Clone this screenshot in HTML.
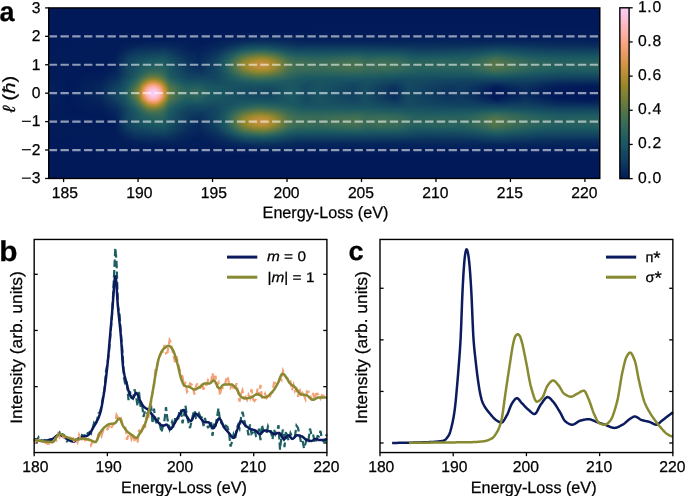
<!DOCTYPE html>
<html><head><meta charset="utf-8"><style>
html,body{margin:0;padding:0;background:#fff;width:685px;height:496px;overflow:hidden}
#heat{position:absolute;left:48px;top:8px;width:552px;height:170px;overflow:hidden}
#heat div{position:absolute;left:0;width:552px}
#cb{position:absolute;left:619.85px;top:7.8px;width:9.25px;height:170.79999999999998px;background:linear-gradient(180deg,#faccfa 0.0%,#fbc7ec 2.5%,#fbc3de 5.0%,#fcbed0 7.5%,#fdb9c2 10.0%,#fcb4b4 12.5%,#fbafa5 15.0%,#faaa97 17.5%,#f9a588 20.0%,#f7a17a 22.5%,#ee9e6d 25.0%,#e69a60 27.5%,#dd9754 30.0%,#d59447 32.5%,#ca923f 35.0%,#be8f3a 37.5%,#b28d35 40.0%,#a68b2f 42.5%,#9a882c 45.0%,#8e8530 47.5%,#828234 50.0%,#777f39 52.5%,#6b7c3d 55.0%,#607942 57.5%,#567548 60.0%,#4c724d 62.5%,#436f52 65.0%,#3a6c57 67.5%,#32675a 70.0%,#2b635c 72.5%,#245f5f 75.0%,#1d5a62 77.5%,#1a5562 80.0%,#174f61 82.5%,#144861 85.0%,#124260 87.5%,#0e3b5f 90.0%,#0b335e 92.5%,#082a5c 95.0%,#04225b 97.5%,#011959 100.0%)}
svg{position:absolute;left:0;top:0;will-change:transform}

text{font-family:"Liberation Sans",sans-serif;fill:#000;text-rendering:geometricPrecision;stroke:#000;stroke-width:0.25px}
</style></head><body>
<div id="heat">
<div style="top:0px;height:1px;background:#011959"></div>
<div style="top:1px;height:1px;background:#011959"></div>
<div style="top:2px;height:1px;background:#011959"></div>
<div style="top:3px;height:1px;background:#011959"></div>
<div style="top:4px;height:1px;background:#011959"></div>
<div style="top:5px;height:1px;background:#011959"></div>
<div style="top:6px;height:1px;background:#011959"></div>
<div style="top:7px;height:1px;background:#011959"></div>
<div style="top:8px;height:1px;background:#011959"></div>
<div style="top:9px;height:1px;background:#011959"></div>
<div style="top:10px;height:1px;background:#011959"></div>
<div style="top:11px;height:1px;background:#011959"></div>
<div style="top:12px;height:1px;background:#011959"></div>
<div style="top:13px;height:1px;background:#011959"></div>
<div style="top:14px;height:1px;background:#011959"></div>
<div style="top:15px;height:1px;background:#011959"></div>
<div style="top:16px;height:1px;background:#011959"></div>
<div style="top:17px;height:1px;background:#011959"></div>
<div style="top:18px;height:1px;background:#011959"></div>
<div style="top:19px;height:1px;background:#011959"></div>
<div style="top:20px;height:1px;background:#011959"></div>
<div style="top:21px;height:1px;background:linear-gradient(90deg,#011959 0.1%,#011a59 99.9%)"></div>
<div style="top:22px;height:1px;background:linear-gradient(90deg,#011959 0.1%,#011a59 99.9%)"></div>
<div style="top:23px;height:1px;background:linear-gradient(90deg,#011959 0.1%,#011a59 99.9%)"></div>
<div style="top:24px;height:1px;background:linear-gradient(90deg,#011959 0.1%,#021b59 86.7%,#021a59 99.9%)"></div>
<div style="top:25px;height:1px;background:linear-gradient(90deg,#011959 0.1%,#021d5a 36.1%,#021b59 99.9%)"></div>
<div style="top:26px;height:1px;background:linear-gradient(90deg,#011959 0.1%,#021d5a 34.3%,#021b59 99.9%)"></div>
<div style="top:27px;height:1px;background:linear-gradient(90deg,#011959 0.1%,#021d5a 33.4%,#031e5a 42.5%,#021c5a 99.9%)"></div>
<div style="top:28px;height:1px;background:linear-gradient(90deg,#011959 0.1%,#011a59 26.5%,#04215a 40.9%,#031e5a 62.2%,#021d5a 99.9%)"></div>
<div style="top:29px;height:1px;background:linear-gradient(90deg,#011959 0.1%,#021b59 24.5%,#031f5a 33.6%,#05235b 40.7%,#031f5a 51.2%,#031d5a 99.9%)"></div>
<div style="top:30px;height:1px;background:linear-gradient(90deg,#011959 0.1%,#021c5a 15.9%,#021c5a 31.1%,#06265b 39.2%,#04205a 48.8%,#04215b 80.7%,#031f5a 99.9%)"></div>
<div style="top:31px;height:1px;background:linear-gradient(90deg,#011959 0.1%,#021c5a 14.4%,#021c5a 23.1%,#021d5a 30.9%,#07295c 38.7%,#04215a 48.1%,#05225b 79.6%,#04205a 99.9%)"></div>
<div style="top:32px;height:1px;background:linear-gradient(90deg,#011959 0.1%,#021c5a 13.9%,#031e5a 22.2%,#021c5a 29.6%,#092d5d 38.5%,#05235b 47.0%,#05245b 79.1%,#04215b 99.9%)"></div>
<div style="top:33px;height:1px;background:linear-gradient(90deg,#011959 0.1%,#021c5a 13.3%,#04205a 21.6%,#021c5a 28.9%,#082a5c 34.5%,#0a315d 39.4%,#06265b 45.9%,#05235b 65.7%,#07275c 79.6%,#05235b 99.9%)"></div>
<div style="top:34px;height:1px;background:linear-gradient(90deg,#011959 0.1%,#021c5a 13.1%,#05235b 21.1%,#021c5a 28.4%,#07285c 33.2%,#0c365e 37.8%,#0a305d 41.8%,#07285c 45.9%,#06275c 64.6%,#07285c 78.4%,#082a5c 82.7%,#06255b 97.4%,#06255b 99.9%)"></div>
<div style="top:35px;height:1px;background:linear-gradient(90deg,#011959 0.1%,#021c5a 13.0%,#06255b 20.0%,#021c5a 28.2%,#07285c 32.7%,#0e3a5f 37.0%,#0e395f 40.5%,#082b5c 45.2%,#082a5c 64.2%,#07295c 76.5%,#092e5d 82.2%,#07285c 93.8%,#07285c 99.9%)"></div>
<div style="top:36px;height:1px;background:linear-gradient(90deg,#011959 0.1%,#021c59 12.8%,#06265b 18.4%,#06255b 21.8%,#021d5a 28.0%,#07285c 32.2%,#103f60 36.7%,#103f60 40.5%,#0a2f5d 45.0%,#092e5d 57.0%,#092c5d 64.8%,#092d5d 77.6%,#0b325e 82.0%,#082a5c 92.8%,#082a5c 99.9%)"></div>
<div style="top:37px;height:1px;background:linear-gradient(90deg,#011959 0.1%,#021b59 12.6%,#07285c 17.5%,#07285c 21.5%,#021d5a 27.6%,#07285c 31.8%,#114260 36.0%,#134560 39.8%,#0b325e 45.2%,#0b335e 56.8%,#0a305d 64.6%,#0a2f5d 71.1%,#0a315d 77.8%,#0d375f 81.8%,#092c5d 92.3%,#092d5d 99.9%)"></div>
<div style="top:38px;height:1px;background:linear-gradient(90deg,#011a59 0.1%,#021c59 12.6%,#082a5c 17.1%,#082b5c 21.5%,#021d5a 27.3%,#07295c 31.4%,#134660 35.6%,#164c61 39.4%,#0d375e 45.2%,#0d395f 54.6%,#0d375f 60.4%,#0a315d 69.1%,#0c355e 77.6%,#0f3c60 81.6%,#0b325e 90.1%,#0a315d 99.9%)"></div>
<div style="top:39px;height:1px;background:linear-gradient(90deg,#011a59 0.1%,#021b59 12.4%,#082c5c 16.8%,#092e5d 21.3%,#031e5a 26.7%,#07285c 30.9%,#164c61 35.8%,#185261 39.2%,#0f3b5f 45.2%,#0f3c5f 51.4%,#0f3c5f 56.6%,#0e395f 64.2%,#0c345e 68.4%,#0d385f 77.3%,#114160 81.6%,#0c365e 89.8%,#0c345e 99.9%)"></div>
<div style="top:40px;height:1px;background:linear-gradient(90deg,#011a59 0.1%,#021b59 12.4%,#092e5d 16.4%,#0b325e 21.3%,#04205a 26.2%,#05225b 28.9%,#0a315d 31.8%,#185161 35.8%,#1c5962 39.0%,#144961 42.7%,#104060 45.4%,#114160 51.7%,#104060 56.8%,#0f3e60 64.2%,#0d385f 67.8%,#0f3c5f 76.9%,#134560 81.6%,#0d375e 92.1%,#0d385f 99.9%)"></div>
<div style="top:41px;height:1px;background:linear-gradient(90deg,#011a59 0.1%,#021b59 12.2%,#0a305d 16.2%,#0c365e 21.1%,#05235b 25.5%,#04205a 27.8%,#092e5d 31.1%,#1b5862 36.0%,#235e5f 39.0%,#195462 41.8%,#124460 44.7%,#124460 51.2%,#124560 56.6%,#114160 64.4%,#0f3c60 68.4%,#0f3d60 73.6%,#144761 79.6%,#154a61 81.8%,#0e3b5f 92.3%,#0f3d60 99.9%)"></div>
<div style="top:42px;height:1px;background:linear-gradient(90deg,#011a59 0.1%,#021b59 12.2%,#0b335e 16.0%,#0e3a5f 21.1%,#06255b 25.1%,#04205a 27.6%,#0a2f5d 30.9%,#205c61 35.6%,#2d645c 38.3%,#26605e 40.5%,#195361 42.7%,#144861 45.0%,#144861 51.2%,#154961 56.4%,#144861 58.8%,#134560 64.2%,#114060 68.2%,#124460 77.3%,#174f61 81.4%,#114260 89.2%,#114160 97.4%,#114160 99.9%)"></div>
<div style="top:43px;height:1px;background:linear-gradient(90deg,#011a59 0.1%,#021b59 12.2%,#0c345e 15.7%,#103f60 20.9%,#07275c 24.9%,#04215a 27.6%,#0b315e 30.9%,#205c61 34.9%,#346859 37.6%,#346859 39.6%,#195462 43.2%,#164c61 45.6%,#164c61 51.0%,#174e61 56.4%,#164c61 58.6%,#154a61 64.0%,#124360 67.5%,#144861 76.9%,#195462 81.4%,#134661 89.0%,#124460 94.5%,#124460 99.9%)"></div>
<div style="top:44px;height:1px;background:linear-gradient(90deg,#011a59 0.1%,#021c59 12.2%,#0d365e 15.5%,#103f60 18.9%,#104060 21.3%,#07295c 24.9%,#04215b 27.4%,#0b325e 30.7%,#1f5c61 34.3%,#356959 36.1%,#426f53 38.7%,#356959 40.9%,#1b5762 43.4%,#185061 45.7%,#185061 50.8%,#195361 56.2%,#175061 58.2%,#174f61 63.7%,#134761 67.1%,#144861 73.5%,#174f61 78.2%,#1c5a62 81.2%,#154961 88.9%,#144761 93.8%,#144861 99.9%)"></div>
<div style="top:45px;height:1px;background:linear-gradient(90deg,#011a59 0.1%,#021b59 12.0%,#0e3a5f 15.7%,#114260 18.9%,#124460 21.1%,#07295c 25.1%,#05225b 27.4%,#0c355e 30.7%,#1d5b62 33.8%,#3a6c57 35.8%,#4e734c 38.0%,#4e734c 39.4%,#2d645c 42.3%,#1c5962 43.9%,#185261 48.8%,#1b5862 56.2%,#195462 58.1%,#195462 63.5%,#154a61 66.9%,#164c61 73.3%,#185161 77.6%,#215d60 80.3%,#1f5b61 82.3%,#164d61 88.9%,#154b61 93.6%,#154b61 99.9%)"></div>
<div style="top:46px;height:1px;background:linear-gradient(90deg,#021a59 0.1%,#021b59 12.0%,#0f3c5f 15.5%,#134560 18.9%,#134761 21.1%,#082a5c 25.3%,#05235b 27.4%,#0c355e 30.5%,#1c5a62 33.4%,#457051 35.8%,#5b7745 37.8%,#5c7744 39.2%,#487150 41.0%,#235e5f 43.6%,#1c5962 45.2%,#1b5862 50.3%,#205c60 56.1%,#1b5862 58.1%,#1b5962 63.3%,#174e61 66.9%,#185061 73.1%,#195362 76.9%,#205c60 79.4%,#29625d 81.1%,#1b5962 85.2%,#185161 89.0%,#174e61 93.4%,#174f61 99.9%)"></div>
<div style="top:47px;height:1px;background:linear-gradient(90deg,#021a59 0.1%,#021b59 12.0%,#103e60 15.3%,#144861 18.9%,#154a61 21.1%,#082b5c 25.5%,#05245b 27.4%,#0d385f 30.5%,#1e5b61 33.2%,#4b724e 35.4%,#657a3f 37.4%,#6c7c3d 38.9%,#5c7744 40.5%,#2d645b 43.2%,#215d60 45.0%,#1e5b61 49.7%,#245f5f 53.9%,#26605e 56.1%,#1e5b61 57.9%,#225e60 61.5%,#1b5762 64.8%,#185161 67.8%,#195462 72.9%,#1a5662 76.4%,#215d60 78.7%,#2f655b 81.1%,#1b5862 86.7%,#185161 93.0%,#195261 99.9%)"></div>
<div style="top:48px;height:1px;background:linear-gradient(90deg,#021b59 0.1%,#021c59 12.0%,#103f60 15.1%,#154a61 18.6%,#164d61 21.1%,#082b5c 25.6%,#06255b 27.4%,#0e3a5f 30.5%,#1f5c61 33.1%,#49714f 34.9%,#657a40 36.3%,#798038 38.0%,#7a8037 39.2%,#5f7843 41.0%,#346859 43.2%,#26605e 44.8%,#235e60 49.5%,#29625d 53.5%,#2b635c 56.1%,#235e5f 57.7%,#27615e 61.0%,#225d60 64.0%,#1a5662 66.0%,#1b5762 73.1%,#1c5962 76.4%,#2d645c 79.6%,#356959 81.1%,#1c5962 87.6%,#195462 93.2%,#1a5662 99.9%)"></div>
<div style="top:49px;height:1px;background:linear-gradient(90deg,#021b59 0.1%,#021b59 11.9%,#082a5c 13.1%,#114260 15.3%,#164d61 18.8%,#175061 21.1%,#092c5d 25.6%,#06265b 27.4%,#0f3c60 30.5%,#1f5c61 32.9%,#477150 34.5%,#637a40 35.6%,#838234 37.4%,#8b8431 38.7%,#838234 39.8%,#5e7843 41.6%,#376a58 43.4%,#2b635d 45.0%,#27615e 49.5%,#2e655b 53.4%,#30665a 56.1%,#27615e 57.7%,#2c645c 60.8%,#27615e 63.9%,#1b5962 66.0%,#1d5b62 72.9%,#1f5c61 76.2%,#32675a 79.6%,#3b6c56 81.1%,#1f5c61 87.8%,#1b5762 93.2%,#1b5962 99.9%)"></div>
<div style="top:50px;height:1px;background:linear-gradient(90deg,#021b59 0.1%,#021b59 11.9%,#07285c 13.0%,#114260 14.9%,#174f61 18.2%,#195462 20.9%,#092c5d 25.8%,#06275c 27.4%,#0f3c5f 30.3%,#1f5c61 32.7%,#4a714f 34.3%,#737e3a 35.8%,#91862f 37.4%,#99882c 38.7%,#91862f 39.8%,#727e3b 41.2%,#3c6d56 43.4%,#2f655b 45.0%,#2c635c 49.5%,#336759 53.4%,#356959 56.1%,#2c635c 57.7%,#31665a 60.6%,#2c645c 63.7%,#1e5b61 66.2%,#215d60 72.7%,#205c60 75.5%,#32675a 79.1%,#426f53 80.9%,#2f655b 84.9%,#225e60 88.3%,#1c5a62 93.0%,#1e5b61 99.9%)"></div>
<div style="top:51px;height:1px;background:linear-gradient(90deg,#021b59 0.1%,#021b59 11.9%,#07295c 13.0%,#114260 14.8%,#185261 18.0%,#1a5662 20.9%,#0b325e 25.1%,#07275c 27.3%,#103e60 30.3%,#1f5c61 32.5%,#457051 34.0%,#747e3a 35.4%,#9a882c 37.2%,#a68b2f 38.5%,#9f892c 39.6%,#828235 41.0%,#426f53 43.4%,#346859 44.7%,#2f655b 49.4%,#376a58 53.2%,#3a6c57 56.1%,#30665b 57.7%,#356959 60.4%,#31665a 63.5%,#215d60 66.2%,#26605e 70.9%,#235e5f 75.3%,#356959 78.9%,#49714f 80.9%,#346859 84.5%,#26605e 88.3%,#1f5c61 92.8%,#215d60 99.9%)"></div>
<div style="top:52px;height:1px;background:linear-gradient(90deg,#021b59 0.1%,#021b59 11.7%,#05235b 12.6%,#104060 14.4%,#195361 17.7%,#1b5962 20.9%,#0d375f 24.5%,#07285c 27.3%,#103f60 30.3%,#1e5b61 32.3%,#3d6d55 33.6%,#7d8136 35.4%,#9f892c 36.9%,#b08d34 38.3%,#ad8c32 39.4%,#99882c 40.5%,#567548 42.8%,#3f6e54 43.9%,#366a58 45.2%,#32675a 49.4%,#3b6c57 53.2%,#3f6e54 55.9%,#336859 57.7%,#396b57 60.4%,#346859 63.5%,#245f5f 66.2%,#28615d 70.7%,#26605e 75.3%,#386b57 78.9%,#4e734c 80.9%,#3f6e55 83.1%,#29615d 88.1%,#215d60 92.7%,#245f5f 99.9%)"></div>
<div style="top:53px;height:1px;background:linear-gradient(90deg,#021b59 0.1%,#021b59 11.7%,#05245b 12.6%,#114160 14.4%,#1a5562 17.7%,#1d5b62 20.9%,#0f3c5f 24.2%,#07295c 27.3%,#114260 30.5%,#205c61 32.3%,#416f53 33.6%,#7f8136 35.2%,#a08a2c 36.5%,#b68e36 38.0%,#b98e37 39.0%,#a98b30 40.1%,#9d892b 40.7%,#567548 43.0%,#3e6e55 44.3%,#386b58 46.6%,#356959 49.4%,#3e6e55 53.0%,#426f52 55.0%,#426f53 56.1%,#366958 57.5%,#3b6d56 60.4%,#376a58 63.5%,#26605e 66.2%,#2b635d 70.7%,#28615d 75.3%,#3b6d56 78.9%,#52744a 80.7%,#4a724e 82.3%,#3b6c56 84.1%,#2b635c 88.3%,#235e5f 92.7%,#26605e 99.9%)"></div>
<div style="top:54px;height:1px;background:linear-gradient(90deg,#021b59 0.1%,#021b59 11.7%,#05245b 12.6%,#104060 14.2%,#1a5762 17.5%,#1f5c61 20.9%,#114160 23.6%,#07295c 27.1%,#104060 30.2%,#1e5b61 32.2%,#3e6e55 33.4%,#848334 35.2%,#9d892b 36.1%,#b98e38 37.6%,#c0903b 38.9%,#b78e37 39.8%,#99882c 41.0%,#50734b 43.4%,#3e6e55 44.7%,#376a58 49.2%,#426f53 53.0%,#467051 55.0%,#467051 56.1%,#386b57 57.5%,#3e6e55 60.2%,#3a6c57 63.3%,#28615e 66.2%,#2c635c 70.6%,#2a635d 73.1%,#2b635c 75.6%,#3c6d56 78.7%,#567548 80.7%,#4e734c 82.3%,#3d6d56 84.3%,#2d645c 88.3%,#255f5f 92.7%,#28615e 99.9%)"></div>
<div style="top:55px;height:1px;background:linear-gradient(90deg,#021b59 0.1%,#021c59 11.7%,#05245b 12.6%,#114160 14.2%,#1b5862 17.5%,#235e60 20.7%,#144861 22.9%,#082a5c 27.1%,#114260 30.3%,#1f5c61 32.2%,#406e54 33.4%,#888432 35.2%,#9d892b 36.0%,#bb8f39 37.4%,#c5913d 38.7%,#be8f3a 39.6%,#a38a2d 40.9%,#97882d 41.2%,#537449 43.4%,#406e54 44.7%,#396b57 49.2%,#446f52 52.8%,#48714f 55.0%,#487150 56.1%,#3a6c57 57.5%,#406e54 60.1%,#3d6d55 63.0%,#29625d 66.2%,#2d645c 70.6%,#2c635c 73.1%,#2c645c 75.6%,#3e6e55 78.7%,#587647 80.7%,#50734b 82.3%,#3f6e54 84.3%,#2e655b 88.1%,#27605e 91.2%,#28615e 93.6%,#29625d 99.9%)"></div>
<div style="top:56px;height:1px;background:linear-gradient(90deg,#021b59 0.1%,#021b59 11.5%,#06255b 12.6%,#114160 14.2%,#1d5b62 17.7%,#255f5f 20.7%,#175061 22.2%,#082b5c 26.9%,#0c345e 28.7%,#164c61 31.1%,#205c61 32.2%,#416f53 33.4%,#8a8432 35.2%,#9f892c 36.0%,#bd8f3a 37.4%,#c7913e 38.7%,#c0903b 39.6%,#a58a2e 40.9%,#94872e 41.4%,#557549 43.4%,#416f53 44.7%,#396b57 49.0%,#457051 52.8%,#49714f 55.0%,#49714f 56.1%,#3a6c57 57.5%,#426f53 59.9%,#3e6e55 63.0%,#2a625d 66.2%,#2e655b 70.6%,#2c645c 73.1%,#2d645c 75.6%,#3f6e54 78.7%,#597646 80.7%,#51744b 82.3%,#406e54 84.3%,#2f655b 88.1%,#27615e 91.2%,#28615d 93.6%,#29625d 99.9%)"></div>
<div style="top:57px;height:1px;background:linear-gradient(90deg,#021b59 0.1%,#021c59 11.5%,#06255b 12.6%,#114260 14.2%,#1e5b61 17.5%,#26605e 20.7%,#185161 22.2%,#092c5d 26.9%,#0c355e 28.7%,#164c61 31.1%,#205c60 32.2%,#416f53 33.4%,#8a8432 35.2%,#9f892c 36.0%,#bd8f3a 37.4%,#c7913e 38.7%,#c0903b 39.6%,#a58a2e 40.9%,#94872e 41.4%,#557548 43.4%,#426f53 44.7%,#3a6c57 49.0%,#457051 52.8%,#49714f 55.0%,#49714f 56.1%,#3b6c57 57.5%,#426f53 59.9%,#3d6d56 63.1%,#2a625d 66.4%,#2e655b 70.7%,#2c635c 75.3%,#3d6d56 78.5%,#587647 80.7%,#50734b 82.3%,#3f6e54 84.3%,#2e655b 88.1%,#26605e 91.4%,#29625d 99.9%)"></div>
<div style="top:58px;height:1px;background:linear-gradient(90deg,#021b59 0.1%,#021b59 11.3%,#05225b 12.4%,#114260 14.2%,#205c61 17.5%,#29625d 20.6%,#1a5662 21.8%,#0b315d 26.2%,#092d5d 27.4%,#144761 30.7%,#205c61 32.2%,#416f53 33.4%,#888432 35.2%,#9d892b 36.0%,#bb8f39 37.4%,#c4903d 38.7%,#bd8f3a 39.6%,#a28a2d 40.9%,#98882d 41.2%,#547549 43.4%,#416f53 44.7%,#396b57 49.0%,#447051 52.8%,#48714f 55.0%,#48714f 56.1%,#3a6c57 57.5%,#406e54 60.1%,#3c6d56 63.1%,#29625d 66.4%,#2e655b 70.7%,#2b635c 75.3%,#3d6d55 78.7%,#567548 80.7%,#4d724d 82.5%,#3e6e55 84.3%,#2d645b 88.3%,#255f5f 92.7%,#28615e 99.9%)"></div>
<div style="top:59px;height:1px;background:linear-gradient(90deg,#021c59 0.1%,#021b59 10.8%,#05235b 12.4%,#114260 14.2%,#225d60 17.5%,#2b635c 20.4%,#235e60 21.3%,#195462 22.0%,#0a2f5d 26.7%,#0b325e 28.0%,#154a61 30.9%,#1f5c61 32.2%,#3f6e54 33.4%,#858334 35.2%,#9d892b 36.1%,#b98e37 37.6%,#bf8f3b 38.7%,#b58e36 39.8%,#99882c 41.0%,#52744a 43.4%,#3f6e55 44.8%,#386b57 49.2%,#426f52 53.0%,#467051 55.0%,#467050 56.1%,#396b57 57.5%,#3e6e55 60.2%,#386b57 63.7%,#28615d 66.4%,#2d645c 70.7%,#2a625d 75.3%,#3b6d56 78.7%,#537449 80.7%,#4a714e 82.5%,#3c6d56 84.3%,#2c635c 88.5%,#245e5f 92.7%,#26605e 99.9%)"></div>
<div style="top:60px;height:1px;background:linear-gradient(90deg,#021c59 0.1%,#011a59 10.2%,#04215a 12.2%,#124260 14.2%,#205d60 17.1%,#2c635c 19.1%,#2b635c 20.7%,#1a5462 22.0%,#0b325e 26.4%,#0a305d 27.6%,#154961 30.9%,#1f5c61 32.2%,#3d6d56 33.4%,#7f8136 35.2%,#9f892c 36.5%,#b68e36 38.0%,#b78e37 39.0%,#a58a2e 40.3%,#98882d 40.9%,#50734b 43.4%,#3c6d56 44.8%,#376a58 49.2%,#406e54 53.2%,#446f52 55.2%,#416f53 56.2%,#376a58 57.5%,#3b6d56 60.6%,#346959 64.0%,#27605e 66.4%,#2b635c 70.7%,#29625d 75.5%,#3a6c57 78.9%,#4f734c 80.7%,#467050 82.5%,#3a6c57 84.1%,#2a625d 88.5%,#225d60 92.7%,#245f5f 99.9%)"></div>
<div style="top:61px;height:1px;background:linear-gradient(90deg,#021c5a 0.1%,#011959 9.7%,#04225b 12.2%,#124560 14.4%,#205c60 16.9%,#2e655b 18.8%,#2f655b 20.6%,#215d60 21.5%,#195361 22.2%,#0b335e 26.4%,#0b325e 27.8%,#154961 30.9%,#1d5b61 32.2%,#406e54 33.6%,#7e8136 35.4%,#9e892c 36.9%,#af8c33 38.3%,#ab8c31 39.4%,#99882c 40.5%,#597646 42.8%,#436f52 43.9%,#396c57 45.0%,#356959 49.4%,#3c6d56 53.5%,#3f6e54 56.1%,#356959 57.7%,#386b57 60.6%,#31665a 64.2%,#255f5f 66.6%,#28615e 72.6%,#27605e 75.5%,#386b57 79.1%,#4a714f 80.9%,#356958 84.5%,#27615e 88.7%,#1f5c61 92.7%,#225d60 99.9%)"></div>
<div style="top:62px;height:1px;background:linear-gradient(90deg,#021c5a 0.1%,#011959 9.3%,#05225b 12.2%,#134560 14.4%,#205c61 16.8%,#31675a 18.6%,#31675a 20.6%,#1a5662 22.0%,#0d395f 25.6%,#0b335e 27.6%,#144961 30.9%,#1f5c61 32.3%,#426f53 33.8%,#757f39 35.4%,#9a882c 37.2%,#a58a2f 38.5%,#9e892b 39.6%,#838234 41.0%,#487150 43.4%,#386b57 44.7%,#32675a 49.2%,#396b57 53.7%,#3b6c56 56.1%,#33675a 57.9%,#356959 61.0%,#2c635c 64.6%,#225e60 67.1%,#255f5f 72.6%,#255f5f 75.6%,#366958 79.3%,#436f52 80.9%,#31675a 84.9%,#245f5f 88.7%,#1c5a62 92.7%,#1e5b61 99.9%)"></div>
<div style="top:63px;height:1px;background:linear-gradient(90deg,#021c5a 0.1%,#011959 7.5%,#031e5a 11.3%,#07285c 12.6%,#134560 14.4%,#1e5b61 16.6%,#346859 18.4%,#366a58 20.2%,#2c645c 21.1%,#1a5762 22.0%,#0e3b5f 25.5%,#0c345e 27.6%,#144961 30.9%,#1e5b61 32.3%,#426f52 34.0%,#707d3b 35.6%,#91862f 37.4%,#99882d 38.5%,#908530 39.8%,#747e3a 41.2%,#406e54 43.6%,#336859 45.2%,#30665a 49.5%,#356959 53.9%,#366a58 56.2%,#30665b 57.9%,#30665a 61.5%,#27615e 64.8%,#1f5c61 67.7%,#225e60 72.6%,#225d60 75.6%,#31675a 79.3%,#3c6d56 80.9%,#205d60 88.7%,#1b5862 93.0%,#1c5962 99.9%)"></div>
<div style="top:64px;height:1px;background:linear-gradient(90deg,#021c5a 0.1%,#011959 5.9%,#021d5a 10.4%,#06265b 12.4%,#134560 14.4%,#205d60 16.6%,#396b57 18.4%,#3b6d56 20.0%,#2e655b 21.1%,#1b5862 22.0%,#103e60 25.1%,#0d365e 27.6%,#144861 30.9%,#1f5c61 32.5%,#467050 34.3%,#667a3f 35.6%,#878333 37.6%,#8b8431 38.7%,#7e8136 40.1%,#50734b 42.5%,#3b6d56 43.6%,#2f655b 45.6%,#2d645b 49.9%,#32675a 56.2%,#2c645c 58.1%,#2a625d 62.8%,#1c5a62 67.7%,#1e5b61 72.7%,#1f5c61 76.0%,#2e655b 79.4%,#356958 81.1%,#1c5a62 88.9%,#195462 92.8%,#1a5662 99.9%)"></div>
<div style="top:65px;height:1px;background:linear-gradient(90deg,#021c5a 0.1%,#011959 5.7%,#021c5a 10.1%,#07275c 12.4%,#144861 14.6%,#1f5c61 16.4%,#406e54 18.4%,#447052 19.7%,#356959 20.9%,#1b5962 22.0%,#114160 24.9%,#0e395f 27.8%,#144861 30.9%,#205c61 32.7%,#447052 34.5%,#5f7843 35.8%,#7b8037 37.8%,#7b8037 39.0%,#667a3f 40.9%,#396b57 43.4%,#2c635c 45.6%,#2a625d 50.1%,#2d645b 56.4%,#29625d 58.2%,#225d60 64.6%,#1b5862 67.5%,#1b5862 73.8%,#215d60 78.0%,#2f655b 81.1%,#1b5862 88.3%,#185161 92.8%,#185261 99.9%)"></div>
<div style="top:66px;height:1px;background:linear-gradient(90deg,#021c5a 0.1%,#011959 4.8%,#021c5a 9.9%,#07285c 12.4%,#164d61 14.9%,#1f5c61 16.2%,#467051 18.2%,#4e734c 19.3%,#447051 20.4%,#255f5f 21.6%,#1b5862 22.2%,#114160 25.1%,#0f3b5f 28.0%,#144861 30.9%,#205c61 32.9%,#49714f 35.1%,#697b3e 37.4%,#6f7d3c 38.5%,#5e7843 40.7%,#356959 43.4%,#28615e 45.7%,#27615e 50.6%,#29625d 56.4%,#26605e 58.8%,#1b5862 66.0%,#1b5762 76.2%,#215d60 79.1%,#28615d 81.1%,#1a5562 87.6%,#164d61 92.8%,#174e61 99.9%)"></div>
<div style="top:67px;height:1px;background:linear-gradient(90deg,#021d5a 0.1%,#011959 4.8%,#021d5a 9.7%,#082a5c 12.4%,#195261 15.3%,#215d60 16.2%,#4c724d 18.0%,#587647 18.9%,#53744a 20.0%,#386b57 21.1%,#1e5b61 22.0%,#124360 24.9%,#103e60 28.4%,#144861 30.9%,#205c61 33.1%,#49714f 35.6%,#617942 38.0%,#5b7745 39.8%,#457051 41.8%,#2e655b 43.8%,#225e60 46.5%,#245f5f 56.8%,#1a5662 65.9%,#195462 70.7%,#1a5562 76.9%,#215d60 81.4%,#154b61 90.9%,#154a61 99.9%)"></div>
<div style="top:68px;height:1px;background:linear-gradient(90deg,#031d5a 0.1%,#011959 4.4%,#031d5a 9.7%,#082b5c 12.4%,#1e5b61 15.9%,#366958 16.9%,#5a7745 18.2%,#647a40 19.1%,#5d7744 20.0%,#447051 20.9%,#215d60 22.0%,#195361 23.1%,#124360 25.5%,#114260 29.6%,#1a5562 32.5%,#255f5f 33.6%,#457051 36.1%,#567548 38.1%,#477050 40.9%,#2a625d 43.9%,#1e5b61 46.8%,#205c61 57.0%,#185161 66.6%,#185161 77.4%,#1b5862 81.4%,#144961 90.3%,#134661 93.8%,#134661 99.9%)"></div>
<div style="top:69px;height:1px;background:linear-gradient(90deg,#031d5a 0.1%,#011959 4.3%,#031e5a 9.7%,#092d5d 12.4%,#1d5b62 15.7%,#366958 16.8%,#677b3f 18.2%,#737e3a 18.9%,#707d3b 19.7%,#5a7646 20.6%,#2f655b 21.6%,#215d60 22.2%,#185161 23.5%,#124460 25.6%,#124460 30.2%,#1f5c61 33.4%,#3a6c57 36.0%,#4a714e 38.1%,#386a58 41.6%,#1e5b61 45.6%,#1b5862 59.0%,#195361 63.7%,#174e61 70.7%,#175061 78.5%,#185261 82.9%,#134560 90.3%,#114260 95.7%,#124260 99.9%)"></div>
<div style="top:70px;height:1px;background:linear-gradient(90deg,#031d5a 0.1%,#011959 4.3%,#031f5a 9.7%,#0a2f5d 12.4%,#1d5a62 15.5%,#356959 16.6%,#767f39 18.2%,#848334 18.9%,#808135 19.7%,#6b7c3d 20.4%,#336859 21.6%,#255f5f 22.2%,#1a5662 23.3%,#144761 25.5%,#134560 30.2%,#1e5b61 33.6%,#346859 36.1%,#3e6e55 38.3%,#2c645c 42.5%,#1b5862 45.9%,#1a5562 58.6%,#174f61 63.5%,#174e61 66.2%,#154a61 75.6%,#164c61 83.2%,#134661 88.0%,#103e60 92.7%,#103e60 99.9%)"></div>
<div style="top:71px;height:1px;background:linear-gradient(90deg,#031e5a 0.1%,#011959 3.9%,#04205a 9.7%,#0b335e 12.6%,#205c61 15.5%,#3a6c57 16.6%,#797f38 17.8%,#92862f 18.6%,#98882d 19.1%,#8e8530 19.8%,#717d3b 20.6%,#31665a 21.8%,#1c5a62 23.1%,#154a61 25.3%,#144761 30.3%,#1f5c61 34.1%,#356959 37.6%,#2f655b 40.9%,#1a5662 45.9%,#1a5662 48.1%,#1a5462 55.9%,#174e61 60.4%,#154b61 63.5%,#164d61 65.9%,#134761 72.9%,#134560 86.9%,#0e3a5f 92.5%,#0e395f 99.9%)"></div>
<div style="top:72px;height:1px;background:linear-gradient(90deg,#031e5a 0.1%,#011959 3.9%,#04215a 9.7%,#0c355e 12.6%,#1f5c61 15.3%,#396b57 16.4%,#808135 17.7%,#9a882c 18.2%,#a98b31 18.8%,#ab8c31 19.3%,#a18a2d 19.8%,#8a8432 20.4%,#547549 21.3%,#356959 21.8%,#225e60 22.9%,#195261 24.2%,#164c61 26.0%,#144961 30.5%,#205c61 34.7%,#2f655b 38.3%,#1b5762 45.0%,#195261 47.4%,#1a5562 49.9%,#185161 55.7%,#185161 58.2%,#134761 63.1%,#164c61 65.7%,#134661 70.6%,#124360 82.5%,#114260 87.2%,#0c355e 92.3%,#0c345e 99.9%)"></div>
<div style="top:73px;height:1px;background:linear-gradient(90deg,#031e5a 0.1%,#011959 3.9%,#05225b 9.7%,#0d375e 12.6%,#1e5b61 15.1%,#406e54 16.4%,#91862f 17.7%,#9c892c 17.8%,#b58d36 18.4%,#c1903b 18.9%,#be8f3a 19.5%,#ad8c32 20.0%,#9b882c 20.4%,#5d7844 21.3%,#3a6c57 21.8%,#28615d 22.7%,#1b5762 24.0%,#174f61 25.8%,#174e61 27.6%,#154a61 30.5%,#215d60 36.1%,#27615e 38.5%,#1b5762 44.8%,#185061 47.2%,#195462 49.5%,#174e61 55.7%,#175061 58.1%,#124460 63.1%,#154b61 65.7%,#124460 70.4%,#0f3e60 80.3%,#0f3c60 82.0%,#104060 86.9%,#0a305d 92.3%,#0a2f5d 99.4%,#0a2f5d 99.9%)"></div>
<div style="top:74px;height:1px;background:linear-gradient(90deg,#031f5a 0.1%,#011959 3.9%,#05235b 9.7%,#0e395f 12.6%,#1e5b61 14.9%,#3f6e54 16.2%,#5e7843 16.8%,#95872e 17.5%,#a28a2d 17.7%,#c2903c 18.2%,#d39345 18.8%,#d59447 19.3%,#c8913e 19.8%,#ac8c32 20.4%,#a08a2c 20.6%,#677b3e 21.3%,#416e53 21.8%,#32675a 22.4%,#1b5862 24.2%,#185261 25.8%,#185261 27.4%,#164b61 30.3%,#205d60 37.2%,#205d60 38.7%,#1b5762 44.7%,#174f61 47.2%,#195361 49.4%,#154b61 55.5%,#174f61 57.7%,#104060 63.0%,#154a61 65.5%,#124360 70.4%,#114160 73.8%,#0e3a5f 80.0%,#0c355e 81.6%,#0e395f 83.6%,#0f3d60 86.5%,#092c5d 92.1%,#082a5c 99.0%,#082b5c 99.9%)"></div>
<div style="top:75px;height:1px;background:linear-gradient(90deg,#031f5a 0.1%,#011959 3.7%,#05245b 9.7%,#0f3d60 12.8%,#1b5762 14.6%,#396b57 15.9%,#4f734b 16.4%,#787f38 16.9%,#97872d 17.3%,#b48d35 17.7%,#d59447 18.2%,#e3995c 18.8%,#e49a5e 19.3%,#d9964e 19.8%,#c9913f 20.2%,#a28a2d 20.7%,#838234 21.1%,#48714f 21.8%,#3a6c57 22.2%,#1c5962 24.4%,#1a5562 26.0%,#1a5562 27.4%,#164d61 30.2%,#1c5a62 38.5%,#1b5862 40.3%,#1b5862 44.5%,#164d61 47.0%,#195361 49.2%,#144961 55.5%,#174e61 57.7%,#0f3d60 63.0%,#154a61 65.5%,#114160 70.4%,#103f60 73.1%,#0f3c60 76.9%,#0b335e 80.2%,#0a2f5d 81.6%,#0c355e 83.4%,#0d385f 85.1%,#0e395f 86.9%,#07285c 92.1%,#06255b 98.5%,#06275c 99.9%)"></div>
<div style="top:76px;height:1px;background:linear-gradient(90deg,#041f5a 0.1%,#011959 3.7%,#05245b 9.5%,#114160 13.0%,#1c5962 14.6%,#3e6e55 15.9%,#577647 16.4%,#747e3a 16.8%,#96872e 17.1%,#a68b2f 17.3%,#d29344 17.8%,#e99c66 18.4%,#f4a075 18.9%,#f19e71 19.5%,#e19859 20.0%,#cf9242 20.4%,#a18a2d 20.9%,#7f8136 21.3%,#50734b 21.8%,#406e54 22.2%,#1f5c61 24.4%,#1b5862 26.0%,#1b5862 27.4%,#174f61 30.2%,#1a5662 38.5%,#195462 40.1%,#1b5862 44.5%,#164c61 46.8%,#195261 49.2%,#164c61 53.2%,#144761 55.5%,#174e61 57.5%,#0e395f 63.0%,#154961 65.3%,#104060 70.4%,#0f3c5f 72.9%,#0f3d60 76.0%,#092e5d 80.2%,#07285c 81.4%,#0a315d 83.4%,#0b335e 84.9%,#0d375f 86.5%,#06255b 92.1%,#04215a 97.9%,#05235b 99.9%)"></div>
<div style="top:77px;height:1px;background:linear-gradient(90deg,#04205a 0.1%,#011959 3.7%,#06245b 9.5%,#134761 13.3%,#1e5b61 14.6%,#3c6d56 15.7%,#5f7843 16.4%,#7f8136 16.8%,#92862f 16.9%,#a48a2e 17.1%,#d59447 17.7%,#f19e70 18.2%,#f8a17b 18.4%,#f9a68a 18.8%,#faa88f 19.1%,#f9a588 19.5%,#f5a077 19.8%,#dc9752 20.4%,#d19342 20.6%,#9d892b 21.1%,#667a3f 21.6%,#577647 21.8%,#477050 22.2%,#346859 23.1%,#1f5c61 24.7%,#1e5b61 26.0%,#205d60 27.1%,#185161 29.6%,#195361 37.4%,#185061 38.9%,#195362 41.2%,#1b5762 44.5%,#154b61 46.8%,#195261 49.0%,#154b61 53.0%,#134660 55.5%,#164d61 57.5%,#0c365e 62.8%,#144961 65.3%,#103e60 70.6%,#0e395f 72.7%,#0f3c60 75.3%,#082b5c 80.0%,#05235b 81.2%,#092d5d 83.4%,#0a305d 84.9%,#0c345e 86.5%,#05225b 92.1%,#031d5a 97.6%,#041f5a 99.9%)"></div>
<div style="top:78px;height:1px;background:linear-gradient(90deg,#04205a 0.1%,#011959 3.7%,#06255b 9.5%,#154a61 13.5%,#1c5a62 14.4%,#426f53 15.7%,#677b3f 16.4%,#9e892b 16.9%,#d49446 17.5%,#f5a077 18.0%,#faac9b 18.6%,#fbb0a6 18.9%,#fbafa5 19.3%,#faab98 19.7%,#f8a380 20.0%,#e79b62 20.4%,#cf9241 20.7%,#a98b31 21.1%,#96872e 21.3%,#5e7844 21.8%,#4d724d 22.2%,#386b57 23.1%,#225e60 24.7%,#205c61 25.8%,#245f5f 27.1%,#1a5662 28.7%,#174f61 35.1%,#175061 38.5%,#164d61 39.9%,#1b5862 44.3%,#154b61 46.8%,#195261 49.0%,#154a61 52.8%,#124460 55.5%,#164d61 57.5%,#0b335e 62.8%,#144961 65.3%,#0d385f 72.7%,#0f3b5f 75.1%,#07275c 80.0%,#031f5a 81.2%,#082a5c 83.4%,#092d5d 84.9%,#0b325e 86.3%,#031f5a 91.9%,#021a59 97.4%,#021c5a 99.9%)"></div>
<div style="top:79px;height:1px;background:linear-gradient(90deg,#04205a 0.1%,#011959 3.7%,#06265b 9.5%,#174e61 13.7%,#1e5b61 14.4%,#3f6e55 15.5%,#6f7d3c 16.4%,#94872e 16.8%,#a98b30 16.9%,#d09342 17.3%,#f6a078 17.8%,#fbb0a7 18.4%,#fdb6b8 18.8%,#fdb7bd 19.1%,#fcb5b5 19.5%,#fbaea2 19.8%,#f9a483 20.2%,#f29f72 20.4%,#d9964d 20.7%,#c9913f 20.9%,#a08a2c 21.3%,#647a40 21.8%,#53744a 22.2%,#366958 23.5%,#25605f 24.7%,#235e5f 25.8%,#27615e 27.1%,#1b5762 28.9%,#164d61 36.9%,#164d61 38.5%,#154a61 39.8%,#1b5962 44.3%,#154a61 46.8%,#195361 49.0%,#154961 52.6%,#124360 55.5%,#164d61 57.5%,#0b315d 62.8%,#144861 65.3%,#0d375e 72.7%,#0e3a5f 74.9%,#07295c 79.4%,#021b59 81.2%,#06275c 83.4%,#07295c 84.7%,#0a315d 86.3%,#021d5a 91.9%,#011959 98.5%,#011a59 99.9%)"></div>
<div style="top:80px;height:1px;background:linear-gradient(90deg,#04215a 0.1%,#011959 3.7%,#06275b 9.5%,#175061 13.7%,#205d60 14.4%,#436f52 15.5%,#697b3e 16.2%,#888432 16.6%,#9d892b 16.8%,#c7913e 17.1%,#d9954d 17.3%,#f49f75 17.7%,#faac9b 18.0%,#fdb6b9 18.4%,#fcbccb 18.8%,#fcbed0 19.1%,#fcbbc8 19.5%,#fcb4b4 19.8%,#f8a381 20.4%,#e19959 20.7%,#d39344 20.9%,#a98b31 21.3%,#94872e 21.5%,#6a7c3d 21.8%,#587647 22.2%,#396b57 23.5%,#28615e 24.7%,#25605e 25.8%,#2a625d 27.1%,#1b5762 29.3%,#154b61 36.9%,#164b61 38.5%,#144861 39.8%,#1b5962 44.3%,#154a61 46.8%,#195361 49.0%,#144961 52.6%,#124460 54.4%,#124460 55.7%,#164d61 57.5%,#0a305d 62.8%,#144861 65.3%,#0c365e 72.7%,#0e3a5f 74.7%,#0b325e 77.1%,#04225b 80.0%,#011959 81.1%,#031d5a 82.2%,#06245b 83.4%,#07275c 84.7%,#0a2f5d 86.3%,#05235b 89.2%,#021b59 92.1%,#011959 99.9%)"></div>
<div style="top:81px;height:1px;background:linear-gradient(90deg,#04215a 0.1%,#011959 3.7%,#07275c 9.5%,#185161 13.7%,#225e60 14.4%,#3e6e55 15.3%,#6f7d3c 16.2%,#8f8530 16.6%,#a58a2f 16.8%,#d09342 17.1%,#ee9d6c 17.5%,#f8a381 17.7%,#fdb7bb 18.2%,#fcbfd3 18.6%,#fbc3de 18.9%,#fbc2dd 19.3%,#fcbdcf 19.7%,#fcb4b4 20.0%,#f6a078 20.6%,#d9964e 20.9%,#c7913e 21.1%,#9b892c 21.5%,#707d3b 21.8%,#637941 22.0%,#48714f 22.9%,#2f655b 24.2%,#27605e 25.6%,#2e645b 26.9%,#1b5862 29.4%,#154a61 36.9%,#154a61 38.5%,#134761 39.8%,#1c5962 44.3%,#154a61 46.6%,#195361 49.0%,#144961 52.6%,#124360 54.4%,#124360 55.7%,#164d61 57.5%,#092e5d 62.8%,#144861 65.3%,#0c345e 72.6%,#0e395f 74.7%,#0a315d 77.1%,#041f5a 80.0%,#011959 80.7%,#021b59 82.2%,#05235b 83.4%,#06255b 84.7%,#092e5d 86.3%,#05235b 89.0%,#011a59 92.1%,#011959 99.9%)"></div>
<div style="top:82px;height:1px;background:linear-gradient(90deg,#04215b 0.1%,#011959 3.7%,#07275c 9.5%,#185261 13.7%,#1f5c61 14.2%,#416e54 15.3%,#737e3a 16.2%,#95872e 16.6%,#ab8c31 16.8%,#d69448 17.1%,#f49f75 17.5%,#fbaea2 17.8%,#fdbac6 18.2%,#fbc3df 18.6%,#fbc7eb 18.9%,#fbc6e9 19.3%,#fcc1db 19.7%,#fdb8c0 20.0%,#f9a382 20.6%,#df9856 20.9%,#ce9241 21.1%,#a18a2d 21.5%,#757e3a 21.8%,#677b3f 22.0%,#4b724e 22.9%,#31675a 24.2%,#28615d 25.6%,#30665b 26.9%,#1c5962 29.4%,#144961 36.9%,#144961 38.5%,#134560 39.8%,#1c5962 44.3%,#154a61 46.6%,#195361 49.0%,#144861 52.4%,#124460 54.3%,#114260 55.5%,#164d61 57.3%,#092d5d 62.8%,#144861 65.1%,#0b345e 72.6%,#0e395f 74.5%,#0b315d 76.9%,#04205a 79.8%,#011959 80.5%,#021b59 82.3%,#04215a 83.6%,#06265b 84.9%,#092d5d 86.3%,#04225b 89.0%,#011959 91.9%,#011959 99.9%)"></div>
<div style="top:83px;height:1px;background:linear-gradient(90deg,#04215b 0.1%,#011959 3.7%,#07285c 9.5%,#195261 13.7%,#205c61 14.2%,#426f53 15.3%,#697b3d 16.0%,#858334 16.4%,#98882d 16.6%,#c6913d 16.9%,#d9964e 17.1%,#f8a17b 17.5%,#fdb8be 18.0%,#fbc2dc 18.4%,#fbc8ef 18.8%,#facaf5 19.1%,#fbc7ec 19.5%,#fcc0d7 19.8%,#fcb5b5 20.2%,#f9a689 20.6%,#f29f72 20.7%,#d29343 21.1%,#a58a2e 21.5%,#8e8530 21.6%,#787f38 21.8%,#6a7b3d 22.0%,#4d734d 22.9%,#356959 24.0%,#29625d 25.5%,#31665a 26.9%,#1c5962 29.6%,#144861 36.9%,#144861 38.5%,#124560 39.8%,#1c5a62 44.1%,#154a61 46.8%,#195462 48.8%,#144861 52.4%,#124460 54.3%,#114160 55.5%,#164d61 57.3%,#092d5d 62.8%,#144861 65.1%,#0b335e 72.6%,#0e395f 74.5%,#0a315d 76.9%,#031f5a 79.8%,#011959 80.7%,#021c5a 82.5%,#04205a 83.8%,#092c5d 86.3%,#04215a 89.0%,#011959 91.6%,#011959 99.9%)"></div>
<div style="top:84px;height:1px;background:linear-gradient(90deg,#04215b 0.1%,#011959 3.5%,#07285c 9.5%,#195261 13.7%,#205c60 14.2%,#436f52 15.3%,#6b7c3d 16.0%,#878333 16.4%,#9a882c 16.6%,#c8913f 16.9%,#db9650 17.1%,#f8a27f 17.5%,#fdb9c2 18.0%,#fbc3e1 18.4%,#facaf4 18.8%,#faccf9 19.1%,#fac9f1 19.5%,#fbc2db 19.8%,#fdb6ba 20.2%,#f9a78d 20.6%,#f49f75 20.7%,#d49446 21.1%,#a78b2f 21.5%,#908630 21.6%,#7a8038 21.8%,#6b7c3d 22.0%,#537449 22.7%,#366958 24.0%,#2a625d 25.5%,#32675a 26.9%,#1c5a62 29.6%,#144861 36.9%,#144861 38.5%,#124460 39.8%,#1c5a62 44.1%,#154a61 46.8%,#195462 48.8%,#144861 52.4%,#124460 54.3%,#114160 55.5%,#164d61 57.3%,#092c5d 62.8%,#144861 65.1%,#0b335e 72.6%,#0e395f 74.5%,#0a305d 76.9%,#031f5a 79.8%,#011959 80.5%,#021b59 82.5%,#031f5a 83.8%,#092c5d 86.3%,#05225b 88.9%,#011959 91.4%,#011959 99.9%)"></div>
<div style="top:85px;height:1px;background:linear-gradient(90deg,#04215b 0.1%,#011959 3.5%,#07285c 9.5%,#195361 13.7%,#205c60 14.2%,#446f52 15.3%,#6b7c3d 16.0%,#878333 16.4%,#9b882c 16.6%,#c8913f 16.9%,#db9651 17.1%,#f8a27f 17.5%,#fdb9c2 18.0%,#fbc4e2 18.4%,#facaf5 18.8%,#faccfa 19.1%,#fac9f1 19.5%,#fbc2dc 19.8%,#fdb6ba 20.2%,#f4a075 20.7%,#d49446 21.1%,#a78b30 21.5%,#908630 21.6%,#7a8038 21.8%,#6c7c3d 22.0%,#537449 22.7%,#366958 24.0%,#2a625d 25.5%,#32675a 26.9%,#1c5a62 29.6%,#144861 36.9%,#144861 38.5%,#124460 39.8%,#1c5a62 44.1%,#154a61 46.8%,#195462 48.8%,#144861 52.4%,#124460 54.3%,#114160 55.5%,#164d61 57.3%,#092c5d 62.8%,#144861 65.1%,#0b335e 72.6%,#0e395f 74.5%,#0a305d 76.9%,#031e5a 79.8%,#011959 80.5%,#021b59 82.5%,#031f5a 83.8%,#082c5c 86.3%,#05225b 88.9%,#011959 91.4%,#011959 99.9%)"></div>
<div style="top:86px;height:1px;background:linear-gradient(90deg,#04215b 0.1%,#011959 3.5%,#07285c 9.5%,#195261 13.7%,#205c61 14.2%,#436f52 15.3%,#6a7c3d 16.0%,#868333 16.4%,#99882c 16.6%,#c7913e 16.9%,#da964f 17.1%,#f8a17c 17.5%,#fdb8bf 18.0%,#fbc3de 18.4%,#fac9f1 18.8%,#facbf7 19.1%,#fbc8ee 19.5%,#fcc1d9 19.8%,#fdb5b7 20.2%,#f9a68b 20.6%,#f39f73 20.7%,#d39345 21.1%,#a68b2f 21.5%,#8f8530 21.6%,#797f38 21.8%,#6a7c3d 22.0%,#52744a 22.7%,#356958 24.0%,#2a625d 25.5%,#31675a 26.9%,#1c5962 29.6%,#144861 36.9%,#144861 38.5%,#124460 39.8%,#1c5a62 44.1%,#154a61 46.8%,#195462 48.8%,#144861 52.4%,#124460 54.3%,#114160 55.5%,#164d61 57.3%,#092c5d 62.8%,#144861 65.1%,#0b335e 72.6%,#0e395f 74.5%,#0a305d 76.9%,#031f5a 79.8%,#011959 80.5%,#021c59 82.5%,#041f5a 83.8%,#092c5d 86.3%,#05225b 88.9%,#011959 91.6%,#011959 99.9%)"></div>
<div style="top:87px;height:1px;background:linear-gradient(90deg,#04215b 0.1%,#011959 3.7%,#07285c 9.5%,#185261 13.7%,#1f5c61 14.2%,#416f53 15.3%,#687b3e 16.0%,#838234 16.4%,#96872d 16.6%,#ac8c32 16.8%,#d7954a 17.1%,#f5a077 17.5%,#fdb6b9 18.0%,#fcc0d7 18.4%,#fbc7ea 18.8%,#fbc8ef 19.1%,#fbc6e7 19.5%,#fcbed2 19.8%,#fcb3b1 20.2%,#f9a485 20.6%,#ef9e6e 20.7%,#d09342 21.1%,#a28a2d 21.5%,#767f39 21.8%,#687b3e 22.0%,#4c724d 22.9%,#32675a 24.2%,#29625d 25.6%,#30665a 26.9%,#1b5962 29.6%,#144961 36.9%,#144861 38.5%,#134560 39.8%,#1c5962 44.3%,#154a61 46.6%,#195361 49.0%,#144861 52.4%,#124460 54.3%,#114160 55.5%,#164d61 57.3%,#092d5d 62.8%,#144861 65.1%,#0b335e 72.6%,#0e395f 74.5%,#0a315d 76.9%,#04205a 79.8%,#011959 80.5%,#021b59 82.3%,#04215a 83.4%,#05245b 84.7%,#092d5d 86.1%,#05235b 88.9%,#011959 91.8%,#011959 99.9%)"></div>
<div style="top:88px;height:1px;background:linear-gradient(90deg,#04215a 0.1%,#011959 3.7%,#07275c 9.5%,#185161 13.7%,#235e5f 14.4%,#3f6e54 15.3%,#707d3b 16.2%,#91862f 16.6%,#a78b30 16.8%,#d29344 17.1%,#f09e70 17.5%,#f9a485 17.7%,#fdb8bf 18.2%,#fcc0d7 18.6%,#fbc4e3 18.9%,#fbc4e2 19.3%,#fcbfd3 19.7%,#fdb6b9 20.0%,#f8a17c 20.6%,#ca913f 21.1%,#9d892b 21.5%,#727e3b 21.8%,#657a40 22.0%,#49714f 22.9%,#30665a 24.2%,#27615e 25.6%,#2e655b 26.9%,#1b5862 29.4%,#154961 36.9%,#154961 38.5%,#134661 39.8%,#1c5962 44.3%,#154a61 46.6%,#195361 49.0%,#144961 52.6%,#124360 54.4%,#124360 55.7%,#164d61 57.5%,#092e5d 62.8%,#144861 65.3%,#0c345e 72.6%,#0e395f 74.7%,#0a305d 77.1%,#04215a 79.8%,#011959 80.7%,#021c5a 82.3%,#04225b 83.6%,#06265b 84.9%,#092d5d 86.3%,#05225b 89.0%,#011959 92.1%,#011959 99.9%)"></div>
<div style="top:89px;height:1px;background:linear-gradient(90deg,#04215a 0.1%,#011959 3.7%,#06275c 9.5%,#185061 13.7%,#215d60 14.4%,#3c6d56 15.3%,#6b7c3d 16.2%,#8b8432 16.6%,#a08a2c 16.8%,#ca9240 17.1%,#f7a179 17.7%,#fcb3b1 18.2%,#fcbbc9 18.6%,#fcbfd5 18.9%,#fcbfd3 19.3%,#fdbac5 19.7%,#fcb1ab 20.0%,#f9a586 20.4%,#f19f71 20.6%,#d59448 20.9%,#ac8c32 21.3%,#97872d 21.5%,#6c7c3c 21.8%,#5a7646 22.2%,#376a58 23.6%,#27615e 24.9%,#27615e 26.0%,#2b635c 27.1%,#1b5862 29.3%,#154b61 36.9%,#154b61 38.5%,#144761 39.8%,#1b5962 44.3%,#154a61 46.6%,#195361 49.0%,#144961 52.6%,#124460 54.4%,#124360 55.7%,#164d61 57.5%,#0a2f5d 62.8%,#144861 65.3%,#0c355e 72.7%,#0e3a5f 74.7%,#0b315d 77.1%,#04215a 80.0%,#011959 80.9%,#021c5a 82.2%,#05245b 83.4%,#06265b 84.7%,#0a2f5d 86.3%,#05235b 89.2%,#021a59 92.1%,#011959 99.9%)"></div>
<div style="top:90px;height:1px;background:linear-gradient(90deg,#04215a 0.1%,#011959 3.7%,#06265b 9.5%,#174f61 13.7%,#1f5c61 14.4%,#406e54 15.5%,#657a40 16.2%,#727e3b 16.4%,#98882d 16.8%,#c0903b 17.1%,#d49445 17.3%,#f8a27e 17.8%,#fbaea0 18.2%,#fdb6b8 18.6%,#fdb9c3 18.9%,#fdb9c2 19.3%,#fcb4b4 19.7%,#faac9a 20.0%,#f5a077 20.4%,#cd9241 20.9%,#a48a2e 21.3%,#8f8530 21.5%,#667a3f 21.8%,#557549 22.2%,#376a58 23.5%,#26605e 24.7%,#245f5f 25.8%,#28615d 27.1%,#1b5762 29.1%,#164c61 36.9%,#164d61 38.5%,#154961 39.8%,#1b5962 44.3%,#154a61 46.8%,#195361 49.0%,#154961 52.6%,#124360 54.6%,#134560 55.9%,#164d61 57.5%,#0a315d 62.8%,#144861 65.3%,#0d365e 72.7%,#0e3a5f 74.9%,#07285c 79.4%,#011959 81.1%,#06265b 83.4%,#07285c 84.7%,#0a305d 86.3%,#021c5a 91.9%,#011959 99.9%)"></div>
<div style="top:91px;height:1px;background:linear-gradient(90deg,#04205a 0.1%,#011959 3.7%,#06255b 9.5%,#164d61 13.7%,#225d60 14.6%,#3c6d56 15.5%,#6a7b3d 16.4%,#a18a2d 16.9%,#c8913e 17.3%,#d8954b 17.5%,#f8a27d 18.0%,#faab99 18.4%,#fcb1aa 18.8%,#fcb3af 19.1%,#fbb0a8 19.5%,#faaa95 19.8%,#f6a078 20.2%,#d39344 20.7%,#9a882c 21.3%,#607842 21.8%,#4f734c 22.2%,#376a58 23.3%,#235e5f 24.7%,#215d60 25.8%,#255f5f 27.1%,#1b5762 28.7%,#164d61 36.0%,#174f61 38.5%,#164c61 39.8%,#1b5862 44.3%,#154a61 46.8%,#195261 49.0%,#154a61 52.8%,#124460 55.5%,#164d61 57.5%,#0b335e 62.8%,#144961 65.3%,#0d375f 72.7%,#0e3b5f 75.1%,#07285c 79.8%,#031d5a 81.2%,#07295c 83.4%,#092c5d 84.9%,#0b325e 86.3%,#031e5a 91.9%,#011959 97.6%,#021c59 99.9%)"></div>
<div style="top:92px;height:1px;background:linear-gradient(90deg,#04205a 0.1%,#011959 3.7%,#06255b 9.5%,#144761 13.3%,#1f5c61 14.6%,#3e6e55 15.7%,#627941 16.4%,#838234 16.8%,#96872e 16.9%,#a88b30 17.1%,#cb9240 17.5%,#ed9d6b 18.0%,#f5a077 18.2%,#f9a78c 18.6%,#faaa97 18.9%,#faaa95 19.3%,#f9a689 19.7%,#f39f73 20.0%,#d59447 20.6%,#a28a2d 21.1%,#7c8037 21.5%,#597646 21.8%,#49714f 22.2%,#366958 23.1%,#205d60 24.7%,#1f5c61 26.0%,#225d60 27.1%,#195462 28.9%,#185061 36.7%,#185261 38.5%,#174f61 39.9%,#1b5862 44.3%,#154b61 46.8%,#195261 49.0%,#154a61 53.0%,#134560 55.5%,#164d61 57.5%,#0c355e 62.8%,#144961 65.3%,#0e395f 72.7%,#0f3c5f 75.3%,#082a5c 80.0%,#04215b 81.2%,#082c5c 83.4%,#0a2f5d 84.9%,#0b345e 86.5%,#04215a 92.1%,#021c5a 97.4%,#031e5a 99.9%)"></div>
<div style="top:93px;height:1px;background:linear-gradient(90deg,#04205a 0.1%,#011959 3.7%,#05245b 9.5%,#124460 13.1%,#1c5a62 14.6%,#406e54 15.9%,#5a7746 16.4%,#787f38 16.8%,#9b882c 17.1%,#cb9240 17.7%,#e89b63 18.2%,#f7a17a 18.8%,#f8a27e 19.1%,#f29f72 19.7%,#dd9754 20.2%,#d49446 20.4%,#a68b2f 20.9%,#95872e 21.1%,#52744a 21.8%,#436f52 22.2%,#29625d 23.6%,#1c5a62 24.9%,#1d5a62 27.3%,#174f61 30.2%,#1a5562 38.5%,#195261 40.1%,#1b5862 44.5%,#164c61 46.8%,#195261 49.2%,#164b61 53.2%,#134761 55.5%,#174e61 57.5%,#0d385f 63.0%,#144961 65.3%,#103f60 70.4%,#0e3b5f 72.9%,#0f3d60 76.0%,#092c5d 80.2%,#06275c 81.4%,#0a2f5d 83.4%,#0b325e 84.9%,#0c365e 86.5%,#05245b 92.1%,#04205a 97.7%,#04225b 99.9%)"></div>
<div style="top:94px;height:1px;background:linear-gradient(90deg,#031f5a 0.1%,#011959 3.7%,#05245b 9.7%,#103e60 12.8%,#1b5862 14.6%,#3a6c57 15.9%,#52744a 16.4%,#7d8037 16.9%,#9c892b 17.3%,#d29344 18.0%,#e59a5f 18.6%,#eb9c67 19.1%,#e3995d 19.7%,#d09342 20.2%,#98882d 20.9%,#587646 21.6%,#426f53 22.0%,#2e645b 23.1%,#1c5962 24.5%,#1a5662 26.0%,#1b5762 27.3%,#164e61 30.2%,#1b5962 38.5%,#1a5662 40.3%,#1b5862 44.5%,#164d61 47.0%,#195361 49.2%,#144861 55.5%,#174e61 57.7%,#0f3c5f 63.0%,#154961 65.5%,#114060 70.4%,#103e60 73.1%,#0f3c5f 76.7%,#0b315d 80.2%,#092d5d 81.6%,#0b335e 83.4%,#0d365e 85.1%,#0d385f 86.7%,#07275c 92.1%,#05245b 98.3%,#06255b 99.9%)"></div>
<div style="top:95px;height:1px;background:linear-gradient(90deg,#031f5a 0.1%,#011959 3.7%,#05235b 9.7%,#0f3c5f 12.8%,#1f5c61 14.9%,#426f53 16.2%,#627941 16.8%,#9b882c 17.5%,#c9913f 18.2%,#d69448 18.6%,#db9650 19.1%,#d59447 19.7%,#bd8f3a 20.2%,#98882d 20.7%,#50734b 21.6%,#3b6c56 22.0%,#1c5962 24.2%,#195361 25.8%,#195462 27.3%,#164c61 30.2%,#205c61 37.6%,#1d5b62 40.9%,#1b5762 44.7%,#174e61 47.0%,#195361 49.2%,#154a61 55.5%,#174f61 57.7%,#103f60 63.0%,#154a61 65.5%,#114260 70.4%,#114060 73.5%,#0f3c5f 77.6%,#0c355e 80.3%,#0b335e 81.8%,#0d375f 83.6%,#0f3c5f 86.5%,#082b5c 92.1%,#07285c 98.8%,#07295c 99.9%)"></div>
<div style="top:96px;height:1px;background:linear-gradient(90deg,#031f5a 0.1%,#011959 3.9%,#05225b 9.7%,#0d375f 12.6%,#1c5a62 14.9%,#3b6c56 16.2%,#587647 16.8%,#97872d 17.7%,#ac8c32 18.0%,#c2903c 18.6%,#c9913f 19.1%,#c1903b 19.7%,#ab8c31 20.2%,#a18a2d 20.4%,#7c8037 20.9%,#3c6d56 21.8%,#2a625d 22.7%,#1a5662 24.2%,#185061 26.0%,#174f61 27.6%,#154b61 30.5%,#225d60 36.7%,#25605f 38.5%,#215d60 41.2%,#1b5762 44.8%,#174f61 47.2%,#195462 49.4%,#164d61 55.7%,#175061 57.9%,#124360 63.1%,#154b61 65.5%,#124460 70.4%,#0f3d60 80.0%,#0e395f 81.8%,#0f3c60 83.6%,#103f60 86.7%,#0a2f5d 92.1%,#092d5d 99.4%,#092e5d 99.9%)"></div>
<div style="top:97px;height:1px;background:linear-gradient(90deg,#031e5a 0.1%,#011959 3.9%,#04215b 9.7%,#0c355e 12.6%,#1c5a62 15.1%,#3b6c56 16.4%,#868333 17.7%,#99882c 18.0%,#ad8c32 18.6%,#b38d35 19.1%,#ac8c32 19.7%,#99882d 20.2%,#627941 21.1%,#376a58 21.8%,#235e5f 22.9%,#195361 24.2%,#164d61 26.0%,#154961 28.5%,#164c61 31.4%,#1f5c61 34.9%,#2c645c 38.3%,#1b5862 44.8%,#185261 47.4%,#1a5462 49.7%,#185061 55.7%,#185161 58.1%,#134660 63.1%,#164c61 65.7%,#134660 70.6%,#114160 82.3%,#114160 87.0%,#0b335e 92.3%,#0b325e 99.9%)"></div>
<div style="top:98px;height:1px;background:linear-gradient(90deg,#031e5a 0.1%,#011959 4.1%,#04205a 9.7%,#0b335e 12.6%,#1d5b62 15.3%,#3c6d56 16.6%,#7f8136 17.8%,#99882c 18.6%,#9f892c 19.1%,#99882c 19.7%,#7f8136 20.4%,#4e734c 21.3%,#32675a 21.8%,#205c61 22.9%,#154b61 25.3%,#144861 30.3%,#1f5c61 34.3%,#336859 38.0%,#245f5f 43.0%,#195362 46.6%,#1a5562 50.3%,#195362 55.9%,#175061 59.3%,#154961 63.3%,#164d61 65.9%,#134661 72.9%,#124460 86.9%,#0d385f 92.5%,#0d375f 99.9%)"></div>
<div style="top:99px;height:1px;background:linear-gradient(90deg,#031d5a 0.1%,#011959 4.1%,#041f5a 9.7%,#0b315e 12.6%,#1e5b61 15.5%,#376a58 16.6%,#767f39 18.0%,#898432 18.8%,#898432 19.5%,#777f38 20.2%,#4f734b 21.1%,#356959 21.6%,#26605e 22.2%,#1a5762 23.3%,#144861 25.5%,#134661 30.3%,#1f5b61 33.8%,#346859 36.5%,#3b6c57 38.5%,#29625d 42.7%,#1b5762 45.9%,#195462 58.6%,#164d61 63.5%,#174e61 66.0%,#144961 73.8%,#154961 83.6%,#134761 87.2%,#0f3d60 92.7%,#0f3d60 99.9%)"></div>
<div style="top:100px;height:1px;background:linear-gradient(90deg,#031d5a 0.1%,#011959 4.1%,#031e5a 9.7%,#092d5d 12.4%,#1e5b61 15.7%,#376a58 16.8%,#6c7c3d 18.2%,#797f38 18.9%,#757f39 19.7%,#5d7844 20.6%,#30665a 21.6%,#225e60 22.2%,#195261 23.5%,#134560 25.6%,#134560 30.2%,#1e5b61 33.4%,#376a58 36.0%,#467051 38.3%,#2f655b 42.5%,#1c5962 46.1%,#1b5762 58.4%,#185161 63.7%,#164b61 74.5%,#185061 82.7%,#134761 88.9%,#114160 93.0%,#114160 99.9%)"></div>
<div style="top:101px;height:1px;background:linear-gradient(90deg,#031d5a 0.1%,#011959 4.4%,#031e5a 9.7%,#082c5c 12.4%,#1e5b61 15.9%,#386a58 16.9%,#5f7843 18.2%,#697b3e 19.1%,#617942 20.0%,#477150 20.9%,#225e60 22.0%,#195362 23.1%,#124360 25.5%,#124360 29.8%,#1b5862 32.9%,#406e54 36.0%,#51744a 38.1%,#416f53 41.0%,#26605e 44.3%,#1d5a62 47.2%,#1e5b61 57.2%,#1a5562 64.4%,#174f61 69.8%,#185261 78.4%,#1a5662 81.6%,#154a61 88.9%,#134560 93.0%,#134560 99.9%)"></div>
<div style="top:102px;height:1px;background:linear-gradient(90deg,#021d5a 0.1%,#011959 4.6%,#021d5a 9.7%,#082a5c 12.4%,#1c5a62 15.9%,#376a58 17.1%,#567548 18.4%,#5c7744 19.3%,#537449 20.2%,#346959 21.3%,#1f5c61 22.0%,#124460 24.9%,#103f60 28.7%,#154961 31.1%,#1f5c61 33.1%,#487150 35.8%,#5d7744 38.0%,#577647 39.8%,#426f53 41.8%,#2c635c 43.9%,#215d60 46.8%,#235e60 56.8%,#195462 66.2%,#195361 76.7%,#1e5b61 81.4%,#154a61 90.9%,#144961 99.9%)"></div>
<div style="top:103px;height:1px;background:linear-gradient(90deg,#021c5a 0.1%,#011959 5.0%,#021c5a 9.7%,#07295c 12.4%,#164d61 14.9%,#1f5c61 16.2%,#49714f 18.2%,#51744a 19.1%,#4a714e 20.2%,#31665a 21.3%,#1d5b62 22.0%,#114260 24.9%,#0f3d60 28.2%,#144861 30.9%,#1f5c61 32.9%,#4a714f 35.2%,#667a3f 37.6%,#687b3e 38.9%,#567548 41.0%,#336859 43.4%,#26605e 45.9%,#27615e 51.5%,#27615e 56.6%,#1b5762 65.9%,#1a5662 70.6%,#1a5662 76.5%,#215d60 79.4%,#25605e 81.2%,#1b5862 86.3%,#164c61 92.7%,#164d61 99.9%)"></div>
<div style="top:104px;height:1px;background:linear-gradient(90deg,#021c5a 0.1%,#011959 5.3%,#021d5a 10.1%,#07285c 12.4%,#154a61 14.8%,#205c61 16.4%,#436f52 18.4%,#477050 19.7%,#3a6c57 20.7%,#1c5962 22.0%,#114160 24.9%,#0e395f 27.8%,#144861 30.9%,#1f5c61 32.7%,#467050 34.7%,#5e7843 36.0%,#777f39 38.0%,#757e39 39.2%,#5a7646 41.4%,#386a58 43.4%,#2a625d 45.6%,#29625d 50.1%,#2c645c 56.4%,#28615e 58.4%,#1f5c61 64.9%,#1b5762 69.5%,#1c5a62 76.7%,#2d645c 81.1%,#1a5662 88.3%,#175061 92.8%,#185161 99.9%)"></div>
<div style="top:105px;height:1px;background:linear-gradient(90deg,#021c5a 0.1%,#011959 5.7%,#021c5a 10.2%,#06275c 12.4%,#144861 14.6%,#1e5b61 16.4%,#396b57 18.2%,#3f6e54 19.7%,#336859 20.9%,#1b5862 22.0%,#103f60 25.1%,#0d375f 27.6%,#144861 30.9%,#1e5b61 32.5%,#447052 34.3%,#637941 35.6%,#828235 37.6%,#868333 38.7%,#798038 40.1%,#4a714e 42.7%,#3a6c57 43.6%,#2e655b 45.6%,#2c645c 49.9%,#31665a 56.2%,#2b635c 58.1%,#28615e 63.1%,#1c5962 67.7%,#1d5b62 72.7%,#1f5c61 76.5%,#30665b 80.0%,#32675a 81.4%,#1c5962 88.7%,#195361 92.8%,#1a5462 99.9%)"></div>
<div style="top:106px;height:1px;background:linear-gradient(90deg,#021c5a 0.1%,#011959 6.8%,#031d5a 10.8%,#06265b 12.4%,#134560 14.4%,#1f5c61 16.6%,#366958 18.4%,#386a58 20.2%,#2d645c 21.1%,#1b5762 22.0%,#0f3b5f 25.5%,#0c355e 27.6%,#144861 30.9%,#205d60 32.5%,#467051 34.1%,#6c7c3c 35.6%,#8d8531 37.4%,#94872e 38.5%,#8b8431 39.8%,#717d3b 41.2%,#3e6e55 43.6%,#32675a 45.4%,#2f655b 49.7%,#346859 54.1%,#356959 56.2%,#2e655b 57.9%,#2f655b 61.7%,#255f5f 64.9%,#1e5b61 67.8%,#215d60 72.6%,#215d60 75.8%,#31675a 79.4%,#396b57 81.1%,#1f5c61 88.7%,#1a5762 93.0%,#1b5862 99.9%)"></div>
<div style="top:107px;height:1px;background:linear-gradient(90deg,#021c5a 0.1%,#011959 8.8%,#05235b 12.2%,#134560 14.4%,#205c60 16.8%,#33675a 18.6%,#336859 20.4%,#27615e 21.3%,#1a5662 22.0%,#0e395f 25.6%,#0b335e 27.6%,#144961 30.9%,#1f5c61 32.3%,#406e54 33.8%,#727e3a 35.4%,#96872d 37.2%,#a18a2d 38.5%,#98882d 39.8%,#7b8037 41.2%,#436f52 43.6%,#366a58 44.8%,#32675a 49.4%,#386a58 53.7%,#396b57 56.2%,#32675a 57.9%,#336859 61.1%,#2b635d 64.6%,#215d60 67.3%,#245f5f 72.6%,#245f5f 75.6%,#346859 79.3%,#406e54 80.9%,#2f665b 85.1%,#235e5f 88.7%,#1c5962 92.8%,#1d5b62 99.9%)"></div>
<div style="top:108px;height:1px;background:linear-gradient(90deg,#021c5a 0.1%,#011959 9.5%,#04225b 12.2%,#134560 14.4%,#1e5b61 16.8%,#2f655b 18.6%,#2f665b 20.6%,#225d60 21.5%,#195361 22.2%,#0c345e 26.4%,#0b335e 27.8%,#154961 30.9%,#205d60 32.3%,#3f6e55 33.6%,#7b8037 35.4%,#9e892c 37.0%,#ac8c32 38.3%,#a78b30 39.4%,#99882c 40.3%,#577647 42.8%,#426f53 43.9%,#386b57 45.2%,#346859 49.4%,#3b6c56 53.5%,#3e6e55 56.1%,#346859 57.7%,#376a58 60.8%,#30665b 64.2%,#245f5f 66.6%,#27605e 72.6%,#26605e 75.5%,#376a58 79.1%,#477150 80.9%,#346859 84.7%,#26605e 88.7%,#1e5b61 92.7%,#215d60 99.9%)"></div>
<div style="top:109px;height:1px;background:linear-gradient(90deg,#021c59 0.1%,#011a59 10.1%,#04215b 12.2%,#124260 14.2%,#1f5c61 16.9%,#2c645c 18.9%,#2c645c 20.7%,#1a5562 22.0%,#0c345e 26.2%,#0a315d 27.6%,#154961 30.9%,#1e5b61 32.2%,#3c6d56 33.4%,#7d8136 35.2%,#9d892b 36.5%,#b38d35 38.0%,#b48d35 39.0%,#a28a2d 40.3%,#91862f 41.0%,#4e734c 43.4%,#3c6d56 44.8%,#376a58 49.4%,#3f6e55 53.4%,#426f53 56.1%,#376a58 57.5%,#3a6c57 60.6%,#346859 64.0%,#26605e 66.4%,#2a625d 70.7%,#28615d 75.5%,#396b57 78.9%,#4d734d 80.9%,#3f6e54 83.1%,#29625d 88.3%,#215d60 92.7%,#235e5f 99.9%)"></div>
<div style="top:110px;height:1px;background:linear-gradient(90deg,#021c59 0.1%,#021a59 10.6%,#04215a 12.2%,#114260 14.2%,#215d60 17.3%,#2c645c 20.0%,#26605e 21.1%,#1b5762 21.8%,#0d365e 25.6%,#0a2f5d 27.4%,#144761 30.7%,#1f5c61 32.2%,#3e6e55 33.4%,#838234 35.2%,#a0892c 36.3%,#b98e37 37.8%,#bd8f39 38.9%,#b08d34 39.9%,#9c892b 40.9%,#51744a 43.4%,#3e6e55 44.8%,#386b58 49.2%,#426f53 53.0%,#457051 55.0%,#457051 56.1%,#386b57 57.5%,#3d6d55 60.2%,#376a58 63.9%,#28615e 66.4%,#2c645c 70.7%,#2a625d 75.3%,#3c6d56 78.9%,#52744a 80.7%,#49714f 82.5%,#3b6c56 84.3%,#2b635c 88.5%,#235e5f 92.7%,#26605e 99.9%)"></div>
<div style="top:111px;height:1px;background:linear-gradient(90deg,#021c59 0.1%,#021b59 11.1%,#05235b 12.4%,#114260 14.2%,#215d60 17.5%,#2a625d 20.6%,#1a5662 21.8%,#0b335e 26.0%,#092e5d 27.4%,#144761 30.7%,#205c61 32.2%,#406e54 33.4%,#878333 35.2%,#a08a2c 36.1%,#bc8f39 37.6%,#c3903c 38.7%,#bc8f39 39.6%,#a18a2d 40.9%,#91862f 41.4%,#547549 43.4%,#406e54 44.8%,#396b57 49.2%,#446f52 52.8%,#477150 55.0%,#487150 56.1%,#3a6c57 57.5%,#406e54 60.1%,#3b6c57 63.3%,#29625d 66.4%,#2d645b 70.7%,#2b635c 75.3%,#3d6d56 78.7%,#557548 80.7%,#4c724d 82.5%,#3d6d55 84.3%,#2d645c 88.3%,#245f5f 92.7%,#28615e 99.9%)"></div>
<div style="top:112px;height:1px;background:linear-gradient(90deg,#021b59 0.1%,#021b59 11.3%,#05225b 12.4%,#114260 14.2%,#1f5c61 17.5%,#27615e 20.7%,#185161 22.2%,#092d5d 26.9%,#0c355e 28.7%,#164c61 31.1%,#205c60 32.2%,#416f53 33.4%,#8a8432 35.2%,#9e892c 36.0%,#bd8f39 37.4%,#c6913e 38.7%,#bf8f3a 39.6%,#a48a2e 40.9%,#99882c 41.2%,#557549 43.4%,#426f53 44.7%,#396b57 49.0%,#457051 52.8%,#49714f 55.0%,#49714f 56.1%,#3b6c57 57.5%,#416f53 59.9%,#3d6d56 63.1%,#2a625d 66.4%,#2e655b 70.7%,#2c635c 75.3%,#3c6d56 78.5%,#587647 80.7%,#50734b 82.3%,#3f6e54 84.3%,#2e655b 88.1%,#26605e 91.4%,#29625d 99.9%)"></div>
<div style="top:113px;height:1px;background:linear-gradient(90deg,#021b59 0.1%,#021b59 11.5%,#06255b 12.6%,#114160 14.2%,#1d5a62 17.5%,#255f5f 20.7%,#185061 22.2%,#082c5c 26.9%,#0c355e 28.7%,#164c61 31.1%,#205c61 32.2%,#416f53 33.4%,#8a8432 35.2%,#9f892c 36.0%,#be8f3a 37.4%,#c7913e 38.7%,#c0903b 39.6%,#a58a2f 40.9%,#94872e 41.4%,#557548 43.4%,#426f53 44.7%,#396b57 49.0%,#457051 52.8%,#49714f 55.0%,#49714f 56.1%,#3b6c57 57.5%,#426f53 59.9%,#3e6e55 63.0%,#2a625d 66.2%,#2e655b 70.6%,#2c645c 73.1%,#2d645c 75.6%,#3f6e54 78.7%,#597646 80.7%,#51744b 82.3%,#406e54 84.3%,#2f655b 88.1%,#27615e 91.2%,#28615d 93.6%,#29625d 99.9%)"></div>
<div style="top:114px;height:1px;background:linear-gradient(90deg,#021b59 0.1%,#021b59 11.5%,#06255b 12.6%,#114160 14.2%,#1c5a62 17.7%,#235e5f 20.7%,#164c61 22.6%,#082a5c 27.1%,#114260 30.3%,#1f5c61 32.2%,#406e54 33.4%,#898432 35.2%,#9e892b 36.0%,#bc8f39 37.4%,#c6913e 38.7%,#bf8f3a 39.6%,#a38a2e 40.9%,#98882d 41.2%,#547549 43.4%,#416e54 44.7%,#396b57 49.2%,#447051 52.8%,#477150 54.8%,#4a714e 55.9%,#3a6c57 57.5%,#416f53 60.1%,#3c6d56 63.1%,#2a625d 66.2%,#2d645b 70.6%,#2c635c 73.1%,#2d645c 75.6%,#3e6e55 78.7%,#587647 80.7%,#50734b 82.3%,#3f6e54 84.3%,#2e655b 88.1%,#27615e 91.2%,#28615d 93.6%,#29625d 99.9%)"></div>
<div style="top:115px;height:1px;background:linear-gradient(90deg,#021b59 0.1%,#021b59 11.7%,#05245b 12.6%,#114060 14.2%,#1b5762 17.5%,#205c60 20.9%,#124460 23.3%,#082a5c 27.1%,#114260 30.3%,#1e5b61 32.2%,#3f6e55 33.4%,#868333 35.2%,#9f892c 36.1%,#bb8f39 37.6%,#c2903c 38.7%,#bb8f39 39.6%,#a08a2c 40.9%,#667a3f 42.7%,#4b724e 43.8%,#3e6d55 44.8%,#386a58 49.2%,#426f52 52.8%,#477050 55.0%,#467050 56.1%,#396b57 57.5%,#3f6e54 60.1%,#3b6d56 63.1%,#29615d 66.2%,#2c645c 70.6%,#2b635c 73.1%,#2c635c 75.6%,#3d6d56 78.7%,#577547 80.7%,#4f734c 82.3%,#3e6e55 84.3%,#2d645c 88.1%,#26605e 91.4%,#28615d 99.9%)"></div>
<div style="top:116px;height:1px;background:linear-gradient(90deg,#021b59 0.1%,#021b59 11.7%,#05245b 12.6%,#114160 14.4%,#1a5662 17.7%,#1e5b61 20.9%,#0e3b5f 24.4%,#07295c 27.3%,#124360 30.5%,#1d5a62 32.2%,#3c6d56 33.4%,#818235 35.2%,#9e892b 36.3%,#b58e36 37.6%,#bc8f39 38.9%,#b28d35 39.8%,#9b882c 40.9%,#4e734c 43.4%,#3c6d56 44.7%,#366958 49.2%,#406e54 53.0%,#446f52 55.0%,#436f52 56.1%,#376a58 57.5%,#3c6d56 60.4%,#386a58 63.5%,#27605e 66.2%,#2b635c 70.6%,#29625d 73.1%,#2a625d 75.6%,#3c6d56 78.9%,#547549 80.7%,#4c724d 82.3%,#3c6d56 84.1%,#2c635c 88.3%,#245f5f 92.7%,#27605e 99.9%)"></div>
<div style="top:117px;height:1px;background:linear-gradient(90deg,#021b59 0.1%,#021b59 11.7%,#05235b 12.6%,#114060 14.4%,#195462 17.7%,#1c5962 20.9%,#0e395f 24.4%,#07285c 27.3%,#104060 30.3%,#1f5b61 32.3%,#3f6e55 33.6%,#808135 35.4%,#9f892c 36.7%,#b28d35 38.1%,#b28d34 39.2%,#98882d 40.7%,#53744a 43.0%,#3c6d56 44.3%,#336859 49.2%,#3c6d56 53.2%,#416e53 55.2%,#406e54 56.1%,#346859 57.5%,#3a6c57 60.4%,#356959 63.5%,#255f5f 66.2%,#29625d 70.7%,#27605e 75.3%,#3a6c57 78.9%,#50734b 80.9%,#406e54 83.1%,#29625d 88.1%,#225d60 92.7%,#255f5f 99.9%)"></div>
<div style="top:118px;height:1px;background:linear-gradient(90deg,#021b59 0.1%,#021b59 11.9%,#07295c 13.0%,#114260 14.8%,#195261 18.0%,#1b5762 20.9%,#0c345e 24.9%,#07275c 27.3%,#103e60 30.3%,#1c5a62 32.3%,#406e54 33.8%,#787f38 35.4%,#9e892c 37.2%,#aa8b31 38.5%,#a38a2e 39.6%,#96872d 40.3%,#577647 42.7%,#3e6e55 43.8%,#346959 45.0%,#30665a 49.4%,#386b57 53.2%,#3b6c56 56.1%,#31665a 57.7%,#366a58 60.4%,#32675a 63.5%,#225e60 66.2%,#26605e 70.7%,#255f5f 75.5%,#386a58 79.1%,#4b724e 80.9%,#356958 84.3%,#27605e 88.3%,#1f5c61 92.7%,#225e60 99.9%)"></div>
<div style="top:119px;height:1px;background:linear-gradient(90deg,#021b59 0.1%,#021b59 11.9%,#07285c 13.0%,#114260 14.9%,#185061 18.2%,#1a5462 20.9%,#092e5d 25.6%,#07275c 27.4%,#0f3d60 30.3%,#1d5b62 32.5%,#467050 34.1%,#727e3a 35.6%,#93862f 37.2%,#9e892b 38.7%,#95872e 39.8%,#767f39 41.2%,#3b6d56 43.6%,#31665a 45.0%,#2d645c 49.4%,#346859 53.4%,#376a58 56.1%,#2d645c 57.7%,#32675a 60.4%,#2e655b 63.5%,#1f5c61 66.2%,#245f5f 71.1%,#215d60 75.3%,#346859 79.1%,#447051 80.9%,#31665a 84.7%,#235e5f 88.3%,#1d5a62 92.8%,#1f5c61 99.9%)"></div>
<div style="top:120px;height:1px;background:linear-gradient(90deg,#021b59 0.1%,#021b59 11.9%,#07275c 13.0%,#114260 15.1%,#174e61 18.6%,#185161 21.1%,#092d5d 25.6%,#06265b 27.4%,#0e3b5f 30.3%,#1d5b62 32.7%,#457051 34.3%,#677b3f 35.6%,#868333 37.2%,#908630 38.7%,#888333 39.8%,#6a7c3d 41.2%,#396b57 43.4%,#2c645c 45.0%,#29625d 49.5%,#30665b 53.4%,#32675a 56.1%,#29625d 57.7%,#2e655b 60.6%,#29625d 63.7%,#1c5a62 66.2%,#205c60 71.1%,#1e5b61 75.5%,#30665a 79.3%,#3d6d55 81.1%,#2b635c 85.2%,#205c61 88.3%,#1b5962 93.2%,#1c5a62 99.9%)"></div>
<div style="top:121px;height:1px;background:linear-gradient(90deg,#021b59 0.1%,#021b59 11.9%,#07295c 13.1%,#114160 15.3%,#164b61 18.8%,#174e61 21.1%,#082c5c 25.6%,#06255b 27.4%,#0e3b5f 30.5%,#1d5a62 32.9%,#477050 34.7%,#607842 35.8%,#7c8037 37.6%,#818235 38.9%,#777f39 39.9%,#4c724d 42.1%,#336859 43.4%,#27615e 45.0%,#245f5f 49.5%,#2b635c 53.5%,#2d645c 56.1%,#245f5f 57.7%,#29625d 60.8%,#245f5f 63.9%,#1b5762 65.9%,#1b5862 73.1%,#1d5b61 76.5%,#30665a 79.8%,#376a58 81.1%,#1c5a62 87.8%,#1a5562 93.2%,#1b5762 99.9%)"></div>
<div style="top:122px;height:1px;background:linear-gradient(90deg,#021b59 0.1%,#021b59 12.0%,#103f60 15.3%,#144961 18.9%,#154b61 21.1%,#082b5c 25.5%,#06245b 27.4%,#0d395f 30.5%,#205c61 33.2%,#4f734c 35.4%,#6c7c3d 37.6%,#717d3b 39.0%,#5b7745 40.9%,#30665b 43.2%,#235e5f 44.8%,#1f5c61 49.5%,#26605e 53.7%,#28615e 56.1%,#205c61 57.9%,#245f5f 61.3%,#1d5b61 64.2%,#195261 66.9%,#1a5562 72.9%,#1b5762 76.4%,#245f5f 78.9%,#31675a 81.1%,#1b5762 87.2%,#195261 93.2%,#195362 99.9%)"></div>
<div style="top:123px;height:1px;background:linear-gradient(90deg,#021a59 0.1%,#021b59 12.0%,#0f3d60 15.5%,#134661 19.1%,#144861 21.1%,#082b5c 25.3%,#05245b 27.4%,#0d365e 30.5%,#1e5b61 33.4%,#467050 35.6%,#5e7843 37.6%,#617942 39.2%,#4c724d 41.0%,#29625d 43.2%,#1d5b62 45.0%,#1c5a62 50.3%,#225e60 56.1%,#1c5962 57.9%,#1e5b61 62.6%,#174f61 66.9%,#185161 73.1%,#195462 76.7%,#215d60 79.3%,#2b635c 81.1%,#1b5962 85.8%,#185261 89.4%,#174f61 93.2%,#185061 99.9%)"></div>
<div style="top:124px;height:1px;background:linear-gradient(90deg,#021a59 0.1%,#021b59 12.0%,#0e3a5f 15.5%,#124360 18.8%,#134560 21.1%,#07295c 25.3%,#05235b 27.4%,#0c365e 30.7%,#1f5c61 33.8%,#426f53 36.1%,#547449 38.1%,#51744b 39.6%,#2d645c 42.5%,#1c5962 44.1%,#1a5562 49.7%,#1c5a62 56.2%,#1a5562 58.1%,#1a5662 63.3%,#164c61 66.9%,#164d61 73.3%,#195261 77.4%,#205d60 80.0%,#245f5f 81.4%,#1b5762 84.5%,#174e61 89.4%,#164c61 93.4%,#164c61 99.9%)"></div>
<div style="top:125px;height:1px;background:linear-gradient(90deg,#011a59 0.1%,#021b59 12.0%,#0d385f 15.7%,#114060 18.9%,#114160 21.3%,#07295c 24.9%,#04225b 27.4%,#0b335e 30.7%,#1f5c61 34.1%,#366958 36.0%,#467050 38.3%,#426f53 39.8%,#1b5862 43.6%,#185261 45.9%,#185261 50.6%,#1a5562 56.2%,#185161 58.2%,#185061 63.7%,#144861 67.1%,#154961 73.5%,#185061 78.2%,#1e5b61 81.2%,#154b61 88.9%,#144861 93.6%,#144961 99.9%)"></div>
<div style="top:126px;height:1px;background:linear-gradient(90deg,#011a59 0.1%,#021b59 12.2%,#0c355e 15.7%,#104060 20.9%,#07285c 24.9%,#04215b 27.6%,#0b325e 30.9%,#205c61 34.7%,#356959 37.0%,#396b57 39.2%,#26605e 41.8%,#195462 43.4%,#164d61 45.7%,#174e61 51.0%,#174f61 56.4%,#164d61 58.4%,#164c61 63.9%,#124560 67.3%,#134560 73.8%,#174f61 79.1%,#1a5662 81.2%,#144761 88.9%,#134560 94.1%,#134560 99.9%)"></div>
<div style="top:127px;height:1px;background:linear-gradient(90deg,#011a59 0.1%,#021b59 12.2%,#0b335e 15.9%,#0e3b5f 21.1%,#06265b 24.9%,#04215a 27.6%,#0a305d 30.9%,#215d60 35.4%,#30665b 38.3%,#29625d 40.5%,#195362 42.8%,#154961 45.2%,#154961 51.0%,#154b61 56.4%,#154961 58.6%,#144761 64.0%,#114160 67.7%,#134560 77.1%,#185161 81.4%,#124360 89.2%,#114260 96.1%,#114260 99.9%)"></div>
<div style="top:128px;height:1px;background:linear-gradient(90deg,#011a59 0.1%,#021b59 12.2%,#0a315d 16.0%,#0d375f 21.1%,#05245b 25.3%,#04205a 27.8%,#0a2f5d 31.1%,#1c5a62 35.8%,#27605e 38.7%,#1b5762 41.6%,#134660 44.7%,#134660 51.2%,#134661 56.6%,#124360 64.2%,#103e60 68.4%,#114260 77.3%,#164c61 81.4%,#104060 89.6%,#103e60 93.8%,#103e60 99.9%)"></div>
<div style="top:129px;height:1px;background:linear-gradient(90deg,#011a59 0.1%,#021c59 12.4%,#0a2f5d 16.4%,#0c345e 21.1%,#04215a 25.8%,#04205a 28.2%,#092d5d 31.2%,#195362 35.8%,#1e5b61 38.9%,#174f61 41.9%,#114160 44.8%,#124260 51.9%,#114160 56.8%,#103f60 64.2%,#0e395f 67.7%,#0e3a5f 73.8%,#134661 80.2%,#103f60 86.1%,#0e395f 93.4%,#0e3a5f 99.9%)"></div>
<div style="top:130px;height:1px;background:linear-gradient(90deg,#011a59 0.1%,#021b59 12.4%,#092d5d 16.6%,#0a305d 21.3%,#031e5a 26.7%,#07295c 30.9%,#164e61 35.8%,#195462 39.2%,#0f3d60 45.2%,#0f3e60 51.2%,#103e60 56.6%,#0e3b5f 64.2%,#0c355e 68.0%,#0e395f 77.1%,#124360 81.6%,#0d375f 89.9%,#0c365e 99.9%)"></div>
<div style="top:131px;height:1px;background:linear-gradient(90deg,#011a59 0.1%,#021c5a 12.6%,#082b5c 17.1%,#092d5d 21.3%,#031d5a 27.1%,#07295c 31.2%,#144761 35.6%,#174e61 39.2%,#0d385f 45.2%,#0e395f 51.7%,#0e395f 56.6%,#0c365e 64.4%,#0b325e 69.3%,#0c365e 77.6%,#103f60 81.4%,#0b335e 89.8%,#0b325e 99.9%)"></div>
<div style="top:132px;height:1px;background:linear-gradient(90deg,#011959 0.1%,#021b59 12.6%,#07295c 17.5%,#07295c 21.5%,#021d5a 27.4%,#07285c 31.6%,#124360 35.8%,#144861 39.6%,#0c345e 45.2%,#0c345e 56.8%,#0b325e 64.4%,#0a2f5d 70.0%,#0b325e 77.8%,#0e395f 81.6%,#092d5d 92.1%,#092f5d 99.9%)"></div>
<div style="top:133px;height:1px;background:linear-gradient(90deg,#011959 0.1%,#021c59 12.8%,#06275c 18.2%,#06265b 21.6%,#021d5a 27.8%,#07285c 32.0%,#104060 36.3%,#114160 40.1%,#0a305d 45.0%,#0a305d 57.0%,#092e5d 64.6%,#092d5d 76.5%,#0c345e 81.8%,#082b5c 92.7%,#082b5c 99.9%)"></div>
<div style="top:134px;height:1px;background:linear-gradient(90deg,#011959 0.1%,#021b59 12.8%,#06255b 18.8%,#05235b 22.0%,#021c5a 28.2%,#07285c 32.5%,#0f3c5f 36.9%,#0f3b5f 40.3%,#092c5d 45.0%,#082c5c 57.3%,#082a5c 64.9%,#082c5c 78.0%,#0a305d 82.2%,#07285c 93.6%,#07295c 99.9%)"></div>
<div style="top:135px;height:1px;background:linear-gradient(90deg,#011959 0.1%,#021b59 13.0%,#05245b 20.7%,#021c5a 28.2%,#07275c 32.9%,#0d375f 37.4%,#0c345e 41.0%,#07295c 45.4%,#07285c 64.4%,#07295c 78.2%,#082c5c 82.5%,#06265b 95.9%,#06265b 99.9%)"></div>
<div style="top:136px;height:1px;background:linear-gradient(90deg,#011959 0.1%,#021c5a 13.3%,#04215a 21.5%,#021c5a 28.5%,#07285c 33.6%,#0b335e 38.5%,#06265b 46.1%,#06245b 65.1%,#07275c 79.1%,#06275c 84.3%,#05245b 99.9%)"></div>
<div style="top:137px;height:1px;background:linear-gradient(90deg,#011959 0.1%,#021c5a 13.7%,#031f5a 22.0%,#021c5a 29.4%,#092e5d 38.5%,#05245b 46.8%,#05245b 78.7%,#05245b 85.8%,#05225b 99.9%)"></div>
<div style="top:138px;height:1px;background:linear-gradient(90deg,#011959 0.1%,#021c5a 14.2%,#031d5a 22.7%,#021c5a 30.3%,#082b5c 38.7%,#04225b 47.6%,#05235b 79.4%,#04205a 99.9%)"></div>
<div style="top:139px;height:1px;background:linear-gradient(90deg,#011959 0.1%,#021c5a 15.1%,#021b59 24.5%,#031f5a 32.5%,#07275c 39.4%,#04205a 48.5%,#04225b 80.2%,#031f5a 99.9%)"></div>
<div style="top:140px;height:1px;background:linear-gradient(90deg,#011959 0.1%,#021b59 24.0%,#031e5a 33.1%,#05245b 40.1%,#031f5a 49.9%,#031e5a 99.9%)"></div>
<div style="top:141px;height:1px;background:linear-gradient(90deg,#011959 0.1%,#011a59 25.8%,#04215b 40.9%,#031e5a 55.0%,#031d5a 99.9%)"></div>
<div style="top:142px;height:1px;background:linear-gradient(90deg,#011959 0.1%,#021c5a 33.1%,#031f5a 41.8%,#021c5a 99.9%)"></div>
<div style="top:143px;height:1px;background:linear-gradient(90deg,#011959 0.1%,#021d5a 34.0%,#021b59 99.9%)"></div>
<div style="top:144px;height:1px;background:linear-gradient(90deg,#011959 0.1%,#021d5a 35.2%,#021b59 99.9%)"></div>
<div style="top:145px;height:1px;background:linear-gradient(90deg,#011959 0.1%,#021b59 64.6%,#021a59 99.9%)"></div>
<div style="top:146px;height:1px;background:linear-gradient(90deg,#011959 0.1%,#011a59 99.9%)"></div>
<div style="top:147px;height:1px;background:linear-gradient(90deg,#011959 0.1%,#011a59 99.9%)"></div>
<div style="top:148px;height:1px;background:linear-gradient(90deg,#011959 0.1%,#011a59 99.9%)"></div>
<div style="top:149px;height:1px;background:#011959"></div>
<div style="top:150px;height:1px;background:#011959"></div>
<div style="top:151px;height:1px;background:#011959"></div>
<div style="top:152px;height:1px;background:#011959"></div>
<div style="top:153px;height:1px;background:#011959"></div>
<div style="top:154px;height:1px;background:#011959"></div>
<div style="top:155px;height:1px;background:#011959"></div>
<div style="top:156px;height:1px;background:#011959"></div>
<div style="top:157px;height:1px;background:#011959"></div>
<div style="top:158px;height:1px;background:#011959"></div>
<div style="top:159px;height:1px;background:#011959"></div>
<div style="top:160px;height:1px;background:#011959"></div>
<div style="top:161px;height:1px;background:#011959"></div>
<div style="top:162px;height:1px;background:#011959"></div>
<div style="top:163px;height:1px;background:#011959"></div>
<div style="top:164px;height:1px;background:#011959"></div>
<div style="top:165px;height:1px;background:#011959"></div>
<div style="top:166px;height:1px;background:#011959"></div>
<div style="top:167px;height:1px;background:#011959"></div>
<div style="top:168px;height:1px;background:#011959"></div>
<div style="top:169px;height:1px;background:#011959"></div>
</div>
<div id="cb"></div>
<svg width="685" height="496" viewBox="0 0 685 496">
<line x1="48.7" y1="36.324999999999996" x2="600" y2="36.324999999999996" stroke="rgba(255,255,255,0.56)" stroke-width="2.2" stroke-dasharray="8.4 3.36"/>
<line x1="48.7" y1="64.75" x2="600" y2="64.75" stroke="rgba(255,255,255,0.56)" stroke-width="2.2" stroke-dasharray="8.4 3.36"/>
<line x1="48.7" y1="93.175" x2="600" y2="93.175" stroke="rgba(255,255,255,0.56)" stroke-width="2.2" stroke-dasharray="8.4 3.36"/>
<line x1="48.7" y1="121.6" x2="600" y2="121.6" stroke="rgba(255,255,255,0.56)" stroke-width="2.2" stroke-dasharray="8.4 3.36"/>
<line x1="48.7" y1="150.025" x2="600" y2="150.025" stroke="rgba(255,255,255,0.56)" stroke-width="2.2" stroke-dasharray="8.4 3.36"/>
<rect x="48.7" y="7.9" width="551.0999999999999" height="170.54999999999998" fill="none" stroke="#000" stroke-width="1.4"/>
<line x1="63.5945945945946" y1="178.45" x2="63.5945945945946" y2="182.04999999999998" stroke="#000" stroke-width="1.3" />
<line x1="138.06756756756755" y1="178.45" x2="138.06756756756755" y2="182.04999999999998" stroke="#000" stroke-width="1.3" />
<line x1="212.54054054054052" y1="178.45" x2="212.54054054054052" y2="182.04999999999998" stroke="#000" stroke-width="1.3" />
<line x1="287.0135135135135" y1="178.45" x2="287.0135135135135" y2="182.04999999999998" stroke="#000" stroke-width="1.3" />
<line x1="361.4864864864864" y1="178.45" x2="361.4864864864864" y2="182.04999999999998" stroke="#000" stroke-width="1.3" />
<line x1="435.9594594594594" y1="178.45" x2="435.9594594594594" y2="182.04999999999998" stroke="#000" stroke-width="1.3" />
<line x1="510.43243243243234" y1="178.45" x2="510.43243243243234" y2="182.04999999999998" stroke="#000" stroke-width="1.3" />
<line x1="584.9054054054054" y1="178.45" x2="584.9054054054054" y2="182.04999999999998" stroke="#000" stroke-width="1.3" />
<line x1="45.1" y1="178.45" x2="48.7" y2="178.45" stroke="#000" stroke-width="1.3" />
<line x1="45.1" y1="150.025" x2="48.7" y2="150.025" stroke="#000" stroke-width="1.3" />
<line x1="45.1" y1="121.6" x2="48.7" y2="121.6" stroke="#000" stroke-width="1.3" />
<line x1="45.1" y1="93.175" x2="48.7" y2="93.175" stroke="#000" stroke-width="1.3" />
<line x1="45.1" y1="64.75" x2="48.7" y2="64.75" stroke="#000" stroke-width="1.3" />
<line x1="45.1" y1="36.324999999999996" x2="48.7" y2="36.324999999999996" stroke="#000" stroke-width="1.3" />
<line x1="45.1" y1="7.9" x2="48.7" y2="7.9" stroke="#000" stroke-width="1.3" />
<rect x="619.85" y="7.8" width="9.25" height="170.79999999999998" fill="none" stroke="#000" stroke-width="1.4"/>
<line x1="629.1" y1="7.8" x2="632.7" y2="7.8" stroke="#000" stroke-width="1.3" />
<line x1="629.1" y1="41.95999999999999" x2="632.7" y2="41.95999999999999" stroke="#000" stroke-width="1.3" />
<line x1="629.1" y1="76.11999999999999" x2="632.7" y2="76.11999999999999" stroke="#000" stroke-width="1.3" />
<line x1="629.1" y1="110.27999999999999" x2="632.7" y2="110.27999999999999" stroke="#000" stroke-width="1.3" />
<line x1="629.1" y1="144.44" x2="632.7" y2="144.44" stroke="#000" stroke-width="1.3" />
<line x1="629.1" y1="178.6" x2="632.7" y2="178.6" stroke="#000" stroke-width="1.3" />
<line x1="34.17" y1="274.3" x2="37.77" y2="274.3" stroke="#000" stroke-width="1.3" />
<line x1="323.29999999999995" y1="274.3" x2="326.9" y2="274.3" stroke="#000" stroke-width="1.3" />
<line x1="34.17" y1="330.45" x2="37.77" y2="330.45" stroke="#000" stroke-width="1.3" />
<line x1="323.29999999999995" y1="330.45" x2="326.9" y2="330.45" stroke="#000" stroke-width="1.3" />
<line x1="34.17" y1="386.65" x2="37.77" y2="386.65" stroke="#000" stroke-width="1.3" />
<line x1="323.29999999999995" y1="386.65" x2="326.9" y2="386.65" stroke="#000" stroke-width="1.3" />
<line x1="34.17" y1="442.85" x2="37.77" y2="442.85" stroke="#000" stroke-width="1.3" />
<line x1="323.29999999999995" y1="442.85" x2="326.9" y2="442.85" stroke="#000" stroke-width="1.3" />
<line x1="34.17" y1="452.55" x2="34.17" y2="456.15000000000003" stroke="#000" stroke-width="1.3" />
<line x1="107.35249999999999" y1="452.55" x2="107.35249999999999" y2="456.15000000000003" stroke="#000" stroke-width="1.3" />
<line x1="180.53499999999997" y1="452.55" x2="180.53499999999997" y2="456.15000000000003" stroke="#000" stroke-width="1.3" />
<line x1="253.71749999999997" y1="452.55" x2="253.71749999999997" y2="456.15000000000003" stroke="#000" stroke-width="1.3" />
<line x1="326.9" y1="452.55" x2="326.9" y2="456.15000000000003" stroke="#000" stroke-width="1.3" />
<line x1="380.0" y1="288.27" x2="383.6" y2="288.27" stroke="#000" stroke-width="1.3" />
<line x1="669.25" y1="288.27" x2="672.85" y2="288.27" stroke="#000" stroke-width="1.3" />
<line x1="380.0" y1="339.85" x2="383.6" y2="339.85" stroke="#000" stroke-width="1.3" />
<line x1="669.25" y1="339.85" x2="672.85" y2="339.85" stroke="#000" stroke-width="1.3" />
<line x1="380.0" y1="391.43" x2="383.6" y2="391.43" stroke="#000" stroke-width="1.3" />
<line x1="669.25" y1="391.43" x2="672.85" y2="391.43" stroke="#000" stroke-width="1.3" />
<line x1="380.0" y1="443.0" x2="383.6" y2="443.0" stroke="#000" stroke-width="1.3" />
<line x1="669.25" y1="443.0" x2="672.85" y2="443.0" stroke="#000" stroke-width="1.3" />
<line x1="380.0" y1="452.55" x2="380.0" y2="456.15000000000003" stroke="#000" stroke-width="1.3" />
<line x1="453.2125" y1="452.55" x2="453.2125" y2="456.15000000000003" stroke="#000" stroke-width="1.3" />
<line x1="526.425" y1="452.55" x2="526.425" y2="456.15000000000003" stroke="#000" stroke-width="1.3" />
<line x1="599.6375" y1="452.55" x2="599.6375" y2="456.15000000000003" stroke="#000" stroke-width="1.3" />
<line x1="672.85" y1="452.55" x2="672.85" y2="456.15000000000003" stroke="#000" stroke-width="1.3" />
<path d="M34.00,441.46 35.50,440.00 37.00,440.04 38.50,437.37 40.00,440.25 41.50,440.34 43.00,440.87 44.50,439.94 46.00,440.67 47.50,439.65 49.00,437.91 50.50,440.99 52.00,440.49 53.50,440.97 55.00,437.25 56.50,435.47 58.00,434.45 59.50,432.53 61.00,436.88 62.50,434.31 64.00,435.17 65.50,437.73 67.00,441.23 68.50,440.06 70.00,438.89 71.50,440.08 73.00,442.58 74.50,441.12 76.00,439.28 77.50,438.96 79.00,439.35 80.50,440.53 82.00,434.95 83.50,435.64 85.00,435.06 86.50,432.07 88.00,433.78 89.50,432.06 91.00,433.57 92.50,428.73 94.00,422.96 95.50,425.18 97.00,420.19 98.50,413.46 100.00,412.14 101.50,405.89 103.00,396.62 104.50,389.65 106.00,370.84 107.50,363.71 109.00,351.60 110.50,333.90 112.00,315.92 113.50,286.39 115.30,248.00 116.50,260.56 118.00,306.52 119.50,313.61 121.00,334.80 122.50,351.79 124.00,377.93 125.50,385.99 127.00,383.95 128.50,400.03 130.00,391.33 131.50,398.04 133.00,398.77 134.50,389.32 136.00,395.70 137.50,405.99 139.00,391.95 140.50,406.72 142.00,403.17 143.50,416.91 145.00,410.51 146.50,412.65 148.00,413.51 149.50,412.64 151.00,404.62 152.50,423.32 154.00,408.69 155.50,420.44 157.00,424.69 158.50,417.56 160.00,424.94 161.50,432.30 163.00,425.66 164.50,420.02 166.00,407.19 167.50,419.52 169.60,429.04 170.50,426.24 172.00,421.92 173.50,427.34 175.00,419.15 176.50,419.14 178.00,421.17 179.50,409.61 181.00,410.48 182.50,423.38 184.00,415.53 185.50,405.66 187.00,416.52 188.50,422.50 190.00,428.12 191.50,421.47 193.00,414.62 194.50,410.29 196.00,417.63 197.50,416.69 199.00,413.38 200.50,416.91 202.00,417.49 203.50,426.01 205.00,418.06 206.50,425.12 208.00,427.31 209.50,426.02 211.00,420.65 212.50,435.94 214.00,423.66 215.50,427.58 217.00,416.94 218.50,408.40 220.00,420.32 221.50,423.38 223.00,424.67 224.50,429.36 226.00,425.77 227.50,427.00 229.00,432.10 230.50,446.52 232.00,441.81 233.50,434.76 235.00,439.53 236.50,428.99 238.00,425.07 239.50,428.47 241.00,417.85 242.50,411.80 244.00,418.29 245.50,426.07 247.00,427.49 248.50,435.23 250.00,424.37 251.50,433.70 253.00,432.31 254.50,429.30 256.00,435.93 257.50,435.39 259.00,428.62 260.50,440.17 262.00,425.03 263.50,431.25 265.00,430.53 266.50,433.20 268.00,426.56 269.50,431.05 271.00,431.30 272.50,439.29 274.00,429.21 275.50,434.24 277.00,431.75 278.50,425.15 280.00,449.63 281.50,435.66 283.00,429.54 284.50,447.15 286.00,430.95 287.50,438.07 289.00,440.55 290.50,433.21 292.00,436.24 293.50,435.10 295.00,435.99 296.50,425.72 298.00,427.94 299.50,434.82 301.00,442.37 302.50,440.54 304.00,448.35 305.50,443.52 307.00,437.09 308.50,439.79 310.00,428.61 311.50,435.13 313.00,434.14 314.50,440.76 316.00,442.86 317.50,436.06 319.00,436.41 320.50,430.82 322.00,439.27 323.50,441.36 325.00,442.25 326.50,434.40" stroke="#1e5f63" stroke-width="2.2" stroke-dasharray="7.4 3.2" fill="none"/>
<path d="M34.00,438.60 34.50,438.85 35.00,439.08 35.50,439.30 36.00,439.51 36.50,439.71 37.00,439.89 37.50,440.06 38.00,440.21 38.50,440.35 39.00,440.48 39.50,440.59 40.00,440.69 40.50,440.78 41.00,440.85 41.50,440.91 42.00,440.95 42.50,440.98 43.00,441.00 43.50,441.00 44.00,440.98 44.50,440.94 45.00,440.89 45.50,440.82 46.00,440.74 46.50,440.64 47.00,440.54 47.50,440.42 48.00,440.29 48.50,440.16 49.00,440.02 49.50,439.87 50.00,439.72 50.50,439.57 51.00,439.42 51.50,439.27 52.00,439.08 52.50,438.84 53.00,438.55 53.50,438.24 54.00,437.89 54.50,437.54 55.00,437.17 55.50,436.81 56.00,436.46 56.50,436.12 57.00,435.82 57.50,435.55 58.00,435.32 58.50,435.15 59.00,435.04 59.50,435.00 60.00,435.04 60.50,435.14 61.00,435.31 61.50,435.52 62.00,435.78 62.50,436.07 63.00,436.39 63.50,436.72 64.00,437.06 64.50,437.41 65.00,437.74 65.50,438.05 66.00,438.34 66.50,438.60 67.00,438.85 67.50,439.12 68.00,439.40 68.50,439.69 69.00,439.98 69.50,440.26 70.00,440.53 70.50,440.79 71.00,441.02 71.50,441.22 72.00,441.39 72.50,441.51 73.00,441.58 73.50,441.60 74.00,441.53 74.50,441.37 75.00,441.14 75.50,440.85 76.00,440.51 76.50,440.13 77.00,439.73 77.50,439.32 78.00,438.92 78.50,438.52 79.00,438.16 79.50,437.84 80.00,437.57 80.50,437.36 81.00,437.20 81.50,437.06 82.00,436.94 82.50,436.83 83.00,436.73 83.50,436.64 84.00,436.55 84.50,436.45 85.00,436.35 85.50,436.23 86.00,436.10 86.50,435.94 87.00,435.76 87.50,435.55 88.00,435.25 88.50,434.85 89.00,434.34 89.50,433.75 90.00,433.08 90.50,432.35 91.00,431.56 91.50,430.73 92.00,429.87 92.50,428.99 93.00,428.09 93.50,427.20 94.00,426.32 94.50,425.46 95.00,424.61 95.50,423.75 96.00,422.88 96.50,421.97 97.00,421.02 97.50,420.02 98.00,418.94 98.50,417.79 99.00,416.54 99.50,415.18 100.00,413.70 100.50,411.97 101.00,409.89 101.50,407.52 102.00,404.90 102.50,402.10 103.00,399.15 103.50,396.11 104.00,392.96 104.50,389.56 105.00,385.92 105.50,382.06 106.00,377.98 106.50,373.71 107.00,369.25 107.50,364.59 108.00,359.44 108.50,353.88 109.00,348.10 109.50,342.29 110.00,336.59 110.50,330.91 111.00,325.20 111.50,319.41 112.00,313.52 112.50,307.49 113.00,301.27 113.50,294.31 114.00,286.79 114.50,281.00 115.00,277.00 115.50,276.35 116.00,279.40 116.50,284.59 117.00,293.46 117.50,301.29 118.00,307.25 118.50,312.56 119.00,317.44 119.50,322.15 120.00,326.91 120.50,331.97 121.00,337.56 121.50,344.26 122.00,352.65 122.50,360.79 123.00,366.50 123.50,369.96 124.00,372.85 124.50,375.31 125.00,377.43 125.50,379.35 126.00,381.17 126.50,383.02 127.00,384.96 127.50,386.94 128.00,388.87 128.50,390.71 129.00,392.38 129.50,393.82 130.00,394.97 130.50,395.81 131.00,396.55 131.50,397.21 132.00,397.71 132.50,397.97 133.00,397.90 133.50,397.37 134.00,396.51 134.50,395.50 135.00,394.49 135.50,393.63 136.00,393.10 136.50,393.04 137.00,393.50 137.50,394.35 138.00,395.48 138.50,396.77 139.00,398.10 139.50,399.35 140.00,400.40 140.50,401.33 141.00,402.27 141.50,403.20 142.00,404.10 142.50,404.93 143.00,405.67 143.50,406.29 144.00,406.80 144.50,407.23 145.00,407.61 145.50,407.95 146.00,408.27 146.50,408.59 147.00,408.91 147.50,409.26 148.00,409.65 148.50,410.09 149.00,410.60 149.50,411.15 150.00,411.73 150.50,412.35 151.00,412.99 151.50,413.65 152.00,414.31 152.50,414.97 153.00,415.62 153.50,416.25 154.00,416.92 154.50,417.61 155.00,418.31 155.50,419.01 156.00,419.71 156.50,420.37 157.00,421.00 157.50,421.59 158.00,422.10 158.50,422.58 159.00,423.08 159.50,423.58 160.00,424.07 160.50,424.53 161.00,424.94 161.50,425.29 162.00,425.56 162.50,425.74 163.00,425.80 163.50,425.74 164.00,425.57 164.50,425.35 165.00,425.10 165.50,424.87 166.00,424.69 166.50,424.60 167.00,424.76 167.50,425.35 168.00,426.21 168.50,427.20 169.00,428.16 169.50,428.93 170.00,429.36 170.50,429.34 171.00,429.00 171.50,428.43 172.00,427.68 172.50,426.82 173.00,425.93 173.50,425.07 174.00,424.29 174.50,423.47 175.00,422.60 175.50,421.68 176.00,420.74 176.50,419.80 177.00,418.87 177.50,417.96 178.00,417.10 178.50,416.30 179.00,415.55 179.50,414.74 180.00,413.91 180.50,413.08 181.00,412.28 181.50,411.55 182.00,410.92 182.50,410.43 183.00,410.11 183.50,410.00 184.00,410.29 184.50,411.05 185.00,412.14 185.50,413.42 186.00,414.76 186.50,415.99 187.00,417.00 187.50,417.71 188.00,418.42 188.50,419.12 189.00,419.76 189.50,420.31 190.00,420.72 190.50,420.96 191.00,420.96 191.50,420.58 192.00,419.86 192.50,418.90 193.00,417.81 193.50,416.67 194.00,415.59 194.50,414.67 195.00,414.01 195.50,413.71 196.00,413.76 196.50,413.99 197.00,414.35 197.50,414.81 198.00,415.34 198.50,415.91 199.00,416.47 199.50,417.01 200.00,417.49 200.50,418.05 201.00,418.67 201.50,419.33 202.00,419.99 202.50,420.63 203.00,421.19 203.50,421.67 204.00,422.01 204.50,422.18 205.00,422.20 205.50,422.20 206.00,422.20 206.50,422.20 207.00,422.20 207.50,422.20 208.00,422.20 208.50,422.23 209.00,422.53 209.50,423.10 210.00,423.87 210.50,424.74 211.00,425.66 211.50,426.53 212.00,427.30 212.50,427.87 213.00,428.17 213.50,428.13 214.00,427.73 214.50,427.03 215.00,426.10 215.50,425.02 216.00,423.83 216.50,422.62 217.00,421.46 217.50,420.39 218.00,419.51 218.50,418.87 219.00,418.53 219.50,418.57 220.00,418.97 220.50,419.66 221.00,420.58 221.50,421.65 222.00,422.82 222.50,424.00 223.00,425.14 223.50,426.16 224.00,427.00 224.50,427.71 225.00,428.38 225.50,429.03 226.00,429.66 226.50,430.27 227.00,430.85 227.50,431.43 228.00,432.00 228.50,432.55 229.00,433.11 229.50,433.72 230.00,434.38 230.50,435.06 231.00,435.73 231.50,436.36 232.00,436.92 232.50,437.38 233.00,437.71 233.50,437.88 234.00,437.79 234.50,437.19 235.00,436.18 235.50,434.86 236.00,433.38 236.50,431.86 237.00,430.41 237.50,429.16 238.00,427.81 238.50,426.30 239.00,424.75 239.50,423.32 240.00,422.12 240.50,421.30 241.00,421.00 241.50,421.11 242.00,421.41 242.50,421.86 243.00,422.42 243.50,423.06 244.00,423.73 244.50,424.39 245.00,425.01 245.50,425.54 246.00,425.96 246.50,426.35 247.00,426.72 247.50,427.09 248.00,427.44 248.50,427.78 249.00,428.10 249.50,428.39 250.00,428.66 250.50,428.91 251.00,429.13 251.50,429.31 252.00,429.47 252.50,429.62 253.00,429.75 253.50,429.89 254.00,430.03 254.50,430.19 255.00,430.38 255.50,430.60 256.00,430.92 256.50,431.36 257.00,431.89 257.50,432.44 258.00,432.98 258.50,433.44 259.00,433.79 259.50,433.98 260.00,433.96 260.50,433.74 261.00,433.37 261.50,432.89 262.00,432.36 262.50,431.82 263.00,431.31 263.50,430.89 264.00,430.61 264.50,430.50 265.00,430.51 265.50,430.54 266.00,430.59 266.50,430.65 267.00,430.73 267.50,430.82 268.00,430.91 268.50,431.02 269.00,431.13 269.50,431.26 270.00,431.47 270.50,431.78 271.00,432.15 271.50,432.54 272.00,432.94 272.50,433.31 273.00,433.63 273.50,433.86 274.00,433.99 274.50,433.99 275.00,433.92 275.50,433.80 276.00,433.65 276.50,433.48 277.00,433.31 277.50,433.16 278.00,433.02 278.50,432.93 279.00,432.90 279.50,433.08 280.00,433.57 280.50,434.29 281.00,435.16 281.50,436.09 282.00,437.00 282.50,437.82 283.00,438.46 283.50,438.83 284.00,438.88 284.50,438.70 285.00,438.36 285.50,437.90 286.00,437.37 286.50,436.83 287.00,436.30 287.50,435.84 288.00,435.50 288.50,435.32 289.00,435.37 289.50,435.75 290.00,436.37 290.50,437.10 291.00,437.83 291.50,438.45 292.00,438.83 292.50,438.88 293.00,438.69 293.50,438.34 294.00,437.87 294.50,437.32 295.00,436.76 295.50,436.23 296.00,435.78 296.50,435.45 297.00,435.30 297.50,435.31 298.00,435.36 298.50,435.43 299.00,435.53 299.50,435.66 300.00,435.80 300.50,435.96 301.00,436.14 301.50,436.32 302.00,436.50 302.50,436.74 303.00,437.09 303.50,437.51 304.00,437.97 304.50,438.45 305.00,438.93 305.50,439.36 306.00,439.72 306.50,439.99 307.00,440.15 307.50,440.29 308.00,440.41 308.50,440.52 309.00,440.63 309.50,440.72 310.00,440.79 310.50,440.85 311.00,440.88 311.50,440.90 312.00,440.83 312.50,440.60 313.00,440.26 313.50,439.86 314.00,439.47 314.50,439.14 315.00,438.94 315.50,438.91 316.00,438.97 316.50,439.09 317.00,439.24 317.50,439.43 318.00,439.61 318.50,439.79 319.00,439.94 319.50,440.05 320.00,440.10 320.50,440.10 321.00,440.09 321.50,440.07 322.00,440.04 322.50,440.00 323.00,439.94 323.50,439.87 324.00,439.79 324.50,439.69 325.00,439.57 325.50,439.43 326.00,439.28 326.50,439.10 327.00,438.90" stroke="#0b1b5d" stroke-width="2.5" fill="none" stroke-linejoin="round"/>
<path d="M34.00,442.98 35.50,442.03 37.00,440.26 38.50,439.84 40.00,440.41 41.50,441.39 43.00,441.31 44.50,442.28 46.00,442.86 47.50,443.94 49.00,443.70 50.50,441.77 52.00,442.62 53.50,441.01 55.00,438.83 56.50,440.28 58.00,434.23 59.50,437.19 61.00,433.71 62.50,435.32 64.00,437.50 65.50,436.61 67.00,437.81 68.50,437.39 70.00,437.62 71.50,438.67 73.00,438.36 74.50,442.32 76.00,439.53 77.50,442.37 79.00,434.97 80.50,438.92 82.00,439.53 83.50,438.15 85.00,440.53 86.50,440.08 88.00,438.95 89.50,440.46 91.00,445.01 92.50,441.46 94.00,442.25 95.50,441.17 97.00,440.44 98.50,433.78 100.00,432.59 101.50,436.01 103.00,431.16 104.50,428.70 106.00,428.59 107.50,429.44 109.00,425.65 110.50,429.05 112.00,426.46 113.50,424.01 115.30,422.93 116.50,414.96 118.00,417.80 119.50,419.28 121.00,418.23 122.50,424.36 124.00,425.36 125.50,427.31 127.00,439.78 128.50,434.57 130.00,433.49 131.50,439.14 133.00,434.90 134.50,440.12 136.00,439.12 137.50,442.94 139.00,429.57 140.50,435.01 142.00,430.40 143.50,423.18 145.00,427.95 146.50,416.47 148.00,419.89 149.50,409.70 151.00,403.16 152.50,393.05 154.00,386.92 155.50,368.05 157.00,366.96 158.50,357.20 160.00,356.08 161.50,351.72 163.00,351.75 164.50,345.03 166.00,353.28 167.50,352.29 169.60,340.05 170.50,341.66 172.00,347.99 173.50,355.54 175.00,362.19 176.50,356.15 178.00,363.67 179.50,368.73 181.00,374.32 182.50,376.37 184.00,386.48 185.50,381.93 187.00,391.86 188.50,389.98 190.00,383.45 191.50,384.39 193.00,386.88 194.50,394.54 196.00,386.10 197.50,383.03 199.00,387.30 200.50,387.85 202.00,382.73 203.50,389.65 205.00,384.27 206.50,385.03 208.00,380.32 209.50,383.26 211.00,382.06 212.50,373.01 214.00,381.54 215.50,375.74 217.00,385.28 218.50,382.62 220.00,395.30 221.50,387.74 223.00,388.12 224.50,387.91 226.00,379.83 227.50,376.39 229.00,383.41 230.50,387.83 232.00,385.04 233.50,388.42 235.00,390.39 236.50,383.29 238.00,392.43 239.50,401.66 241.00,394.65 242.50,390.40 244.00,397.50 245.50,396.70 247.00,399.73 248.50,394.76 250.00,397.98 251.50,389.24 253.00,399.43 254.50,401.04 256.00,399.16 257.50,388.75 259.00,395.80 260.50,384.79 262.00,397.53 263.50,397.00 265.00,393.78 266.50,398.12 268.00,396.43 269.50,398.03 271.00,393.59 272.50,392.38 274.00,382.76 275.50,383.24 277.00,383.03 278.50,382.91 280.00,377.93 281.50,380.04 283.00,370.64 284.50,374.13 286.00,377.84 287.50,378.39 289.00,383.81 290.50,381.84 292.00,390.15 293.50,384.89 295.00,391.31 296.50,389.10 298.00,396.77 299.50,388.25 301.00,396.13 302.50,393.07 304.00,395.68 305.50,399.37 307.00,391.37 308.50,391.77 310.00,394.44 311.50,400.25 313.00,393.00 314.50,399.69 316.00,393.88 317.50,393.60 319.00,396.07 320.50,398.77 322.00,395.14 323.50,395.63 325.00,397.25 326.50,396.42" stroke="#f5a178" stroke-width="2.2" stroke-dasharray="7.4 3.2" fill="none"/>
<path d="M34.00,439.80 34.50,439.91 35.00,440.01 35.50,440.11 36.00,440.22 36.50,440.31 37.00,440.41 37.50,440.50 38.00,440.59 38.50,440.68 39.00,440.77 39.50,440.85 40.00,440.93 40.50,441.01 41.00,441.08 41.50,441.15 42.00,441.22 42.50,441.28 43.00,441.34 43.50,441.40 44.00,441.45 44.50,441.50 45.00,441.55 45.50,441.59 46.00,441.63 46.50,441.67 47.00,441.71 47.50,441.75 48.00,441.79 48.50,441.83 49.00,441.86 49.50,441.90 50.00,441.92 50.50,441.95 51.00,441.97 51.50,441.99 52.00,442.00 52.50,442.00 53.00,441.92 53.50,441.63 54.00,441.15 54.50,440.51 55.00,439.77 55.50,438.95 56.00,438.09 56.50,437.22 57.00,436.39 57.50,435.63 58.00,434.97 58.50,434.46 59.00,434.12 59.50,434.00 60.00,434.03 60.50,434.12 61.00,434.26 61.50,434.45 62.00,434.67 62.50,434.92 63.00,435.19 63.50,435.47 64.00,435.76 64.50,436.04 65.00,436.32 65.50,436.57 66.00,436.80 66.50,437.00 67.00,437.18 67.50,437.37 68.00,437.57 68.50,437.77 69.00,437.97 69.50,438.18 70.00,438.38 70.50,438.57 71.00,438.76 71.50,438.94 72.00,439.11 72.50,439.26 73.00,439.40 73.50,439.52 74.00,439.63 74.50,439.71 75.00,439.76 75.50,439.79 76.00,439.80 76.50,439.77 77.00,439.70 77.50,439.62 78.00,439.51 78.50,439.39 79.00,439.27 79.50,439.13 80.00,439.01 80.50,438.89 81.00,438.78 81.50,438.70 82.00,438.63 82.50,438.60 83.00,438.60 83.50,438.62 84.00,438.66 84.50,438.72 85.00,438.78 85.50,438.86 86.00,438.95 86.50,439.05 87.00,439.16 87.50,439.27 88.00,439.39 88.50,439.51 89.00,439.63 89.50,439.75 90.00,439.88 90.50,440.06 91.00,440.27 91.50,440.51 92.00,440.76 92.50,441.02 93.00,441.27 93.50,441.50 94.00,441.70 94.50,441.86 95.00,441.96 95.50,442.00 96.00,441.77 96.50,441.13 97.00,440.18 97.50,439.01 98.00,437.71 98.50,436.36 99.00,435.07 99.50,433.92 100.00,433.00 100.50,432.24 101.00,431.50 101.50,430.78 102.00,430.09 102.50,429.44 103.00,428.83 103.50,428.25 104.00,427.73 104.50,427.26 105.00,426.84 105.50,426.43 106.00,426.03 106.50,425.65 107.00,425.29 107.50,424.96 108.00,424.67 108.50,424.41 109.00,424.20 109.50,424.05 110.00,423.94 110.50,423.87 111.00,423.81 111.50,423.76 112.00,423.72 112.50,423.68 113.00,423.63 113.50,423.57 114.00,423.50 114.50,423.40 115.00,423.17 115.50,422.73 116.00,422.14 116.50,421.46 117.00,420.74 117.50,420.04 118.00,419.41 118.50,418.91 119.00,418.59 119.50,418.51 120.00,418.91 120.50,419.76 121.00,420.92 121.50,422.25 122.00,423.60 122.50,424.83 123.00,425.80 123.50,426.58 124.00,427.32 124.50,428.03 125.00,428.72 125.50,429.37 126.00,429.98 126.50,430.56 127.00,431.11 127.50,431.61 128.00,432.08 128.50,432.52 129.00,432.92 129.50,433.31 130.00,433.67 130.50,434.02 131.00,434.35 131.50,434.69 132.00,435.02 132.50,435.36 133.00,435.72 133.50,436.14 134.00,436.58 134.50,437.01 135.00,437.40 135.50,437.69 136.00,437.87 136.50,437.87 137.00,437.60 137.50,437.08 138.00,436.38 138.50,435.56 139.00,434.68 139.50,433.80 140.00,433.00 140.50,432.25 141.00,431.50 141.50,430.74 142.00,429.96 142.50,429.14 143.00,428.27 143.50,427.35 144.00,426.35 144.50,425.28 145.00,424.12 145.50,422.77 146.00,421.26 146.50,419.61 147.00,417.84 147.50,415.98 148.00,414.06 148.50,412.10 149.00,410.04 149.50,407.85 150.00,405.54 150.50,403.14 151.00,400.65 151.50,398.10 152.00,395.50 152.50,392.76 153.00,389.82 153.50,386.77 154.00,383.66 154.50,380.58 155.00,377.59 155.50,374.77 156.00,372.11 156.50,369.40 157.00,366.69 157.50,364.07 158.00,361.63 158.50,359.47 159.00,357.67 159.50,356.29 160.00,355.06 160.50,353.92 161.00,352.86 161.50,351.89 162.00,351.01 162.50,350.22 163.00,349.53 163.50,348.95 164.00,348.46 164.50,348.07 165.00,347.69 165.50,347.33 166.00,347.00 166.50,346.69 167.00,346.43 167.50,346.21 168.00,346.04 168.50,345.94 169.00,345.90 169.50,346.00 170.00,346.29 170.50,346.72 171.00,347.28 171.50,347.92 172.00,348.63 172.50,349.35 173.00,350.16 173.50,351.20 174.00,352.43 174.50,353.83 175.00,355.37 175.50,357.01 176.00,358.73 176.50,360.49 177.00,362.25 177.50,364.00 178.00,365.89 178.50,368.02 179.00,370.28 179.50,372.55 180.00,374.73 180.50,376.69 181.00,378.32 181.50,379.68 182.00,381.00 182.50,382.27 183.00,383.42 183.50,384.41 184.00,385.18 184.50,385.68 185.00,385.93 185.50,386.10 186.00,386.24 186.50,386.35 187.00,386.45 187.50,386.53 188.00,386.62 188.50,386.71 189.00,386.83 189.50,386.97 190.00,387.16 190.50,387.43 191.00,387.75 191.50,388.10 192.00,388.45 192.50,388.79 193.00,389.08 193.50,389.32 194.00,389.46 194.50,389.50 195.00,389.45 195.50,389.33 196.00,389.16 196.50,388.94 197.00,388.69 197.50,388.41 198.00,388.10 198.50,387.79 199.00,387.48 199.50,387.17 200.00,386.88 200.50,386.51 201.00,386.07 201.50,385.59 202.00,385.09 202.50,384.62 203.00,384.18 203.50,383.82 204.00,383.55 204.50,383.41 205.00,383.40 205.50,383.40 206.00,383.40 206.50,383.40 207.00,383.40 207.50,383.40 208.00,383.40 208.50,383.40 209.00,383.40 209.50,383.40 210.00,383.30 210.50,383.02 211.00,382.62 211.50,382.15 212.00,381.66 212.50,381.19 213.00,380.81 213.50,380.57 214.00,380.51 214.50,380.78 215.00,381.37 215.50,382.20 216.00,383.20 216.50,384.29 217.00,385.38 217.50,386.41 218.00,387.28 218.50,387.93 219.00,388.27 219.50,388.26 220.00,388.03 220.50,387.63 221.00,387.13 221.50,386.57 222.00,385.99 222.50,385.46 223.00,385.01 223.50,384.71 224.00,384.60 224.50,384.60 225.00,384.60 225.50,384.60 226.00,384.60 226.50,384.60 227.00,384.60 227.50,384.60 228.00,384.60 228.50,384.60 229.00,384.60 229.50,384.60 230.00,384.60 230.50,384.60 231.00,384.60 231.50,384.61 232.00,384.71 232.50,384.92 233.00,385.22 233.50,385.59 234.00,386.03 234.50,386.51 235.00,387.02 235.50,387.55 236.00,388.09 236.50,388.66 237.00,389.43 237.50,390.36 238.00,391.40 238.50,392.48 239.00,393.56 239.50,394.58 240.00,395.48 240.50,396.20 241.00,396.70 241.50,397.06 242.00,397.40 242.50,397.71 243.00,397.98 243.50,398.19 244.00,398.33 244.50,398.40 245.00,398.39 245.50,398.37 246.00,398.34 246.50,398.28 247.00,398.22 247.50,398.15 248.00,398.06 248.50,397.97 249.00,397.87 249.50,397.77 250.00,397.66 250.50,397.55 251.00,397.42 251.50,397.23 252.00,396.98 252.50,396.68 253.00,396.36 253.50,396.01 254.00,395.66 254.50,395.32 255.00,395.00 255.50,394.72 256.00,394.49 256.50,394.31 257.00,394.22 257.50,394.21 258.00,394.28 258.50,394.44 259.00,394.65 259.50,394.91 260.00,395.21 260.50,395.53 261.00,395.87 261.50,396.20 262.00,396.51 262.50,396.80 263.00,397.04 263.50,397.23 264.00,397.36 264.50,397.40 265.00,397.37 265.50,397.27 266.00,397.10 266.50,396.89 267.00,396.62 267.50,396.30 268.00,395.94 268.50,395.54 269.00,395.11 269.50,394.65 270.00,394.16 270.50,393.66 271.00,393.14 271.50,392.61 272.00,392.07 272.50,391.53 273.00,391.00 273.50,390.42 274.00,389.77 274.50,389.04 275.00,388.25 275.50,387.41 276.00,386.54 276.50,385.65 277.00,384.74 277.50,383.84 278.00,382.92 278.50,381.84 279.00,380.60 279.50,379.28 280.00,377.95 280.50,376.68 281.00,375.56 281.50,374.64 282.00,374.00 282.50,373.71 283.00,373.77 283.50,374.03 284.00,374.45 284.50,374.99 285.00,375.61 285.50,376.26 286.00,376.92 286.50,377.56 287.00,378.33 287.50,379.23 288.00,380.18 288.50,381.13 289.00,382.03 289.50,382.80 290.00,383.41 290.50,383.89 291.00,384.32 291.50,384.69 292.00,385.04 292.50,385.37 293.00,385.70 293.50,386.04 294.00,386.41 294.50,386.82 295.00,387.30 295.50,387.87 296.00,388.51 296.50,389.21 297.00,389.94 297.50,390.68 298.00,391.40 298.50,392.10 299.00,392.73 299.50,393.29 300.00,393.74 300.50,394.07 301.00,394.27 301.50,394.41 302.00,394.53 302.50,394.62 303.00,394.71 303.50,394.78 304.00,394.85 304.50,394.92 305.00,394.99 305.50,395.08 306.00,395.18 306.50,395.31 307.00,395.47 307.50,395.74 308.00,396.10 308.50,396.53 309.00,397.02 309.50,397.53 310.00,398.04 310.50,398.53 311.00,398.97 311.50,399.34 312.00,399.62 312.50,399.77 313.00,399.79 313.50,399.71 314.00,399.56 314.50,399.34 315.00,399.09 315.50,398.81 316.00,398.51 316.50,398.22 317.00,397.95 317.50,397.72 318.00,397.54 318.50,397.43 319.00,397.40 319.50,397.40 320.00,397.40 320.50,397.40 321.00,397.40 321.50,397.40 322.00,397.40 322.50,397.40 323.00,397.40 323.50,397.40 324.00,397.40 324.50,397.40 325.00,397.40 325.50,397.40 326.00,397.40 326.50,397.40 327.00,397.40" stroke="#878a30" stroke-width="2.5" fill="none" stroke-linejoin="round"/>
<path d="M392.10,442.90 392.60,442.90 393.10,442.90 393.60,442.90 394.10,442.90 394.60,442.90 395.10,442.89 395.60,442.89 396.10,442.89 396.60,442.89 397.10,442.88 397.60,442.88 398.10,442.87 398.60,442.87 399.10,442.87 399.60,442.86 400.10,442.86 400.60,442.85 401.10,442.84 401.60,442.84 402.10,442.83 402.60,442.82 403.10,442.82 403.60,442.81 404.10,442.80 404.60,442.79 405.10,442.79 405.60,442.78 406.10,442.77 406.60,442.76 407.10,442.75 407.60,442.74 408.10,442.73 408.60,442.72 409.10,442.71 409.60,442.70 410.10,442.69 410.60,442.68 411.10,442.66 411.60,442.65 412.10,442.64 412.60,442.63 413.10,442.62 413.60,442.60 414.10,442.59 414.60,442.58 415.10,442.56 415.60,442.55 416.10,442.54 416.60,442.52 417.10,442.51 417.60,442.49 418.10,442.48 418.60,442.46 419.10,442.45 419.60,442.43 420.10,442.42 420.60,442.40 421.10,442.39 421.60,442.37 422.10,442.36 422.60,442.34 423.10,442.32 423.60,442.31 424.10,442.29 424.60,442.27 425.10,442.26 425.60,442.24 426.10,442.22 426.60,442.20 427.10,442.19 427.60,442.17 428.10,442.15 428.60,442.13 429.10,442.11 429.60,442.09 430.10,442.07 430.60,442.05 431.10,442.03 431.60,442.00 432.10,441.98 432.60,441.95 433.10,441.92 433.60,441.89 434.10,441.86 434.60,441.82 435.10,441.79 435.60,441.75 436.10,441.70 436.60,441.66 437.10,441.61 437.60,441.56 438.10,441.51 438.60,441.46 439.10,441.40 439.60,441.34 440.10,441.27 440.60,441.20 441.10,441.13 441.60,441.05 442.10,440.97 442.60,440.89 443.10,440.80 443.60,440.67 444.10,440.45 444.60,440.15 445.10,439.78 445.60,439.34 446.10,438.84 446.60,438.27 447.10,437.64 447.60,436.97 448.10,436.25 448.60,435.48 449.10,434.65 449.60,433.53 450.10,432.10 450.60,430.43 451.10,428.56 451.60,426.53 452.10,424.40 452.60,422.20 453.10,419.76 453.60,417.02 454.10,413.96 454.60,410.56 455.10,406.70 455.60,402.07 456.10,396.86 456.60,391.32 457.10,385.70 457.60,379.98 458.10,373.96 458.60,367.66 459.10,361.07 459.60,354.42 460.10,347.30 460.60,339.00 461.10,327.95 461.60,314.50 462.10,300.91 462.60,289.40 463.10,279.94 463.60,271.38 464.10,264.29 464.60,258.93 465.10,254.61 465.60,251.88 466.10,250.02 466.60,249.20 467.10,249.91 467.60,251.55 468.10,253.68 468.60,256.96 469.10,261.10 469.60,266.09 470.10,272.40 470.60,279.72 471.10,287.74 471.60,297.13 472.10,308.84 472.60,321.12 473.10,332.21 473.60,340.36 474.10,346.44 474.60,351.60 475.10,356.21 475.60,360.62 476.10,365.07 476.60,369.39 477.10,373.50 477.60,377.38 478.10,381.00 478.60,384.43 479.10,387.67 479.60,390.62 480.10,393.18 480.60,395.51 481.10,397.68 481.60,399.59 482.10,401.18 482.60,402.42 483.10,403.53 483.60,404.57 484.10,405.53 484.60,406.41 485.10,407.24 485.60,408.02 486.10,408.74 486.60,409.43 487.10,410.10 487.60,410.73 488.10,411.36 488.60,411.98 489.10,412.60 489.60,413.22 490.10,413.84 490.60,414.45 491.10,415.04 491.60,415.63 492.10,416.20 492.60,416.76 493.10,417.29 493.60,417.81 494.10,418.31 494.60,418.78 495.10,419.23 495.60,419.65 496.10,420.05 496.60,420.41 497.10,420.74 497.60,421.05 498.10,421.37 498.60,421.68 499.10,421.98 499.60,422.24 500.10,422.46 500.60,422.61 501.10,422.69 501.60,422.66 502.10,422.45 502.60,422.06 503.10,421.53 503.60,420.88 504.10,420.13 504.60,419.30 505.10,418.42 505.60,417.52 506.10,416.62 506.60,415.74 507.10,414.86 507.60,413.84 508.10,412.68 508.60,411.44 509.10,410.13 509.60,408.81 510.10,407.51 510.60,406.26 511.10,405.11 511.60,404.09 512.10,403.25 512.60,402.52 513.10,401.80 513.60,401.08 514.10,400.39 514.60,399.76 515.10,399.20 515.60,398.75 516.10,398.42 516.60,398.23 517.10,398.22 517.60,398.39 518.10,398.72 518.60,399.17 519.10,399.73 519.60,400.36 520.10,401.01 520.60,401.68 521.10,402.31 521.60,402.89 522.10,403.40 522.60,403.92 523.10,404.44 523.60,404.97 524.10,405.50 524.60,406.03 525.10,406.56 525.60,407.08 526.10,407.59 526.60,408.09 527.10,408.57 527.60,409.04 528.10,409.48 528.60,409.90 529.10,410.32 529.60,410.77 530.10,411.22 530.60,411.68 531.10,412.13 531.60,412.56 532.10,412.95 532.60,413.30 533.10,413.59 533.60,413.81 534.10,413.95 534.60,414.00 535.10,413.87 535.60,413.51 536.10,412.95 536.60,412.23 537.10,411.37 537.60,410.43 538.10,409.42 538.60,408.40 539.10,407.38 539.60,406.42 540.10,405.53 540.60,404.77 541.10,404.11 541.60,403.43 542.10,402.73 542.60,402.01 543.10,401.29 543.60,400.58 544.10,399.90 544.60,399.27 545.10,398.69 545.60,398.18 546.10,397.75 546.60,397.42 547.10,397.20 547.60,397.10 548.10,397.14 548.60,397.31 549.10,397.58 549.60,397.94 550.10,398.38 550.60,398.88 551.10,399.42 551.60,399.99 552.10,400.57 552.60,401.14 553.10,401.70 553.60,402.27 554.10,402.89 554.60,403.55 555.10,404.26 555.60,405.00 556.10,405.77 556.60,406.56 557.10,407.37 557.60,408.20 558.10,409.03 558.60,409.86 559.10,410.69 559.60,411.51 560.10,412.33 560.60,413.22 561.10,414.17 561.60,415.17 562.10,416.18 562.60,417.18 563.10,418.14 563.60,419.05 564.10,419.87 564.60,420.57 565.10,421.14 565.60,421.55 566.10,421.93 566.60,422.30 567.10,422.65 567.60,422.99 568.10,423.30 568.60,423.60 569.10,423.86 569.60,424.10 570.10,424.30 570.60,424.46 571.10,424.58 571.60,424.66 572.10,424.70 572.60,424.68 573.10,424.59 573.60,424.43 574.10,424.23 574.60,423.98 575.10,423.69 575.60,423.38 576.10,423.05 576.60,422.71 577.10,422.36 577.60,422.02 578.10,421.69 578.60,421.39 579.10,421.11 579.60,420.88 580.10,420.69 580.60,420.55 581.10,420.42 581.60,420.29 582.10,420.17 582.60,420.05 583.10,419.93 583.60,419.82 584.10,419.71 584.60,419.61 585.10,419.52 585.60,419.44 586.10,419.37 586.60,419.31 587.10,419.26 587.60,419.23 588.10,419.21 588.60,419.20 589.10,419.23 589.60,419.29 590.10,419.39 590.60,419.52 591.10,419.68 591.60,419.85 592.10,420.05 592.60,420.26 593.10,420.48 593.60,420.70 594.10,420.93 594.60,421.15 595.10,421.37 595.60,421.59 596.10,421.78 596.60,421.97 597.10,422.13 597.60,422.30 598.10,422.47 598.60,422.63 599.10,422.80 599.60,422.96 600.10,423.12 600.60,423.29 601.10,423.45 601.60,423.61 602.10,423.78 602.60,423.94 603.10,424.11 603.60,424.27 604.10,424.43 604.60,424.60 605.10,424.77 605.60,424.95 606.10,425.15 606.60,425.35 607.10,425.57 607.60,425.79 608.10,426.01 608.60,426.24 609.10,426.46 609.60,426.67 610.10,426.88 610.60,427.08 611.10,427.26 611.60,427.42 612.10,427.57 612.60,427.69 613.10,427.79 613.60,427.86 614.10,427.89 614.60,427.90 615.10,427.86 615.60,427.79 616.10,427.68 616.60,427.55 617.10,427.38 617.60,427.20 618.10,426.99 618.60,426.76 619.10,426.52 619.60,426.26 620.10,426.00 620.60,425.73 621.10,425.45 621.60,425.18 622.10,424.91 622.60,424.65 623.10,424.36 623.60,424.03 624.10,423.67 624.60,423.29 625.10,422.89 625.60,422.46 626.10,422.03 626.60,421.59 627.10,421.15 627.60,420.72 628.10,420.29 628.60,419.87 629.10,419.48 629.60,419.11 630.10,418.77 630.60,418.46 631.10,418.17 631.60,417.86 632.10,417.55 632.60,417.25 633.10,416.98 633.60,416.75 634.10,416.59 634.60,416.51 635.10,416.52 635.60,416.61 636.10,416.77 636.60,416.99 637.10,417.26 637.60,417.56 638.10,417.89 638.60,418.24 639.10,418.59 639.60,418.93 640.10,419.26 640.60,419.55 641.10,419.80 641.60,420.00 642.10,420.16 642.60,420.31 643.10,420.45 643.60,420.57 644.10,420.69 644.60,420.81 645.10,420.91 645.60,421.02 646.10,421.13 646.60,421.23 647.10,421.34 647.60,421.45 648.10,421.57 648.60,421.69 649.10,421.82 649.60,421.97 650.10,422.14 650.60,422.34 651.10,422.57 651.60,422.82 652.10,423.08 652.60,423.35 653.10,423.61 653.60,423.86 654.10,424.10 654.60,424.30 655.10,424.47 655.60,424.60 656.10,424.68 656.60,424.70 657.10,424.61 657.60,424.41 658.10,424.11 658.60,423.74 659.10,423.31 659.60,422.83 660.10,422.34 660.60,421.85 661.10,421.37 661.60,420.92 662.10,420.52 662.60,420.15 663.10,419.77 663.60,419.39 664.10,419.01 664.60,418.63 665.10,418.25 665.60,417.87 666.10,417.49 666.60,417.11 667.10,416.73 667.60,416.35 668.10,415.97 668.60,415.58 669.10,415.20 669.60,414.82 670.10,414.43 670.60,414.05 671.10,413.66 671.60,413.28 672.10,412.89 672.60,412.51 673.00,412.20" stroke="#0b1b5d" stroke-width="2.5" fill="none" stroke-linejoin="round"/>
<path d="M408.90,442.90 409.40,442.89 409.90,442.89 410.40,442.88 410.90,442.87 411.40,442.86 411.90,442.86 412.40,442.85 412.90,442.84 413.40,442.84 413.90,442.83 414.40,442.82 414.90,442.82 415.40,442.81 415.90,442.80 416.40,442.80 416.90,442.79 417.40,442.78 417.90,442.77 418.40,442.77 418.90,442.76 419.40,442.75 419.90,442.75 420.40,442.74 420.90,442.73 421.40,442.73 421.90,442.72 422.40,442.71 422.90,442.71 423.40,442.70 423.90,442.70 424.40,442.69 424.90,442.68 425.40,442.68 425.90,442.67 426.40,442.66 426.90,442.66 427.40,442.65 427.90,442.64 428.40,442.64 428.90,442.63 429.40,442.63 429.90,442.62 430.40,442.61 430.90,442.61 431.40,442.60 431.90,442.59 432.40,442.59 432.90,442.58 433.40,442.58 433.90,442.57 434.40,442.56 434.90,442.56 435.40,442.55 435.90,442.55 436.40,442.54 436.90,442.54 437.40,442.53 437.90,442.52 438.40,442.52 438.90,442.51 439.40,442.51 439.90,442.50 440.40,442.50 440.90,442.49 441.40,442.48 441.90,442.48 442.40,442.48 442.90,442.47 443.40,442.47 443.90,442.46 444.40,442.46 444.90,442.45 445.40,442.45 445.90,442.44 446.40,442.44 446.90,442.44 447.40,442.43 447.90,442.43 448.40,442.43 448.90,442.42 449.40,442.42 449.90,442.42 450.40,442.41 450.90,442.41 451.40,442.41 451.90,442.40 452.40,442.40 452.90,442.39 453.40,442.39 453.90,442.39 454.40,442.38 454.90,442.38 455.40,442.38 455.90,442.37 456.40,442.37 456.90,442.37 457.40,442.36 457.90,442.36 458.40,442.35 458.90,442.35 459.40,442.34 459.90,442.34 460.40,442.33 460.90,442.33 461.40,442.32 461.90,442.32 462.40,442.31 462.90,442.31 463.40,442.30 463.90,442.30 464.40,442.29 464.90,442.28 465.40,442.28 465.90,442.27 466.40,442.26 466.90,442.25 467.40,442.25 467.90,442.24 468.40,442.23 468.90,442.22 469.40,442.21 469.90,442.20 470.40,442.19 470.90,442.18 471.40,442.17 471.90,442.15 472.40,442.14 472.90,442.12 473.40,442.10 473.90,442.08 474.40,442.05 474.90,442.03 475.40,442.00 475.90,441.97 476.40,441.94 476.90,441.91 477.40,441.88 477.90,441.84 478.40,441.80 478.90,441.76 479.40,441.72 479.90,441.68 480.40,441.63 480.90,441.59 481.40,441.54 481.90,441.49 482.40,441.44 482.90,441.38 483.40,441.32 483.90,441.26 484.40,441.19 484.90,441.10 485.40,441.00 485.90,440.88 486.40,440.75 486.90,440.61 487.40,440.45 487.90,440.28 488.40,440.10 488.90,439.90 489.40,439.69 489.90,439.47 490.40,439.23 490.90,438.98 491.40,438.72 491.90,438.44 492.40,438.10 492.90,437.69 493.40,437.20 493.90,436.64 494.40,436.03 494.90,435.35 495.40,434.63 495.90,433.86 496.40,433.06 496.90,432.22 497.40,431.35 497.90,430.40 498.40,429.35 498.90,428.19 499.40,426.91 499.90,425.50 500.40,423.96 500.90,422.27 501.40,420.41 501.90,418.06 502.40,415.18 502.90,411.88 503.40,408.29 503.90,404.55 504.40,400.76 504.90,397.07 505.40,393.60 505.90,390.26 506.40,386.88 506.90,383.49 507.40,380.11 507.90,376.74 508.40,373.42 508.90,370.14 509.40,366.93 509.90,363.73 510.40,360.42 510.90,357.08 511.40,353.78 511.90,350.61 512.40,347.64 512.90,344.95 513.40,342.61 513.90,340.64 514.40,338.79 514.90,337.23 515.40,336.14 515.90,335.49 516.40,334.93 516.90,334.50 517.40,334.25 517.90,334.22 518.40,334.46 518.90,334.90 519.40,335.48 519.90,336.15 520.40,337.20 520.90,338.68 521.40,340.39 521.90,342.15 522.40,344.07 522.90,346.19 523.40,348.49 523.90,350.90 524.40,353.40 524.90,355.93 525.40,358.44 525.90,360.90 526.40,363.41 526.90,366.06 527.40,368.81 527.90,371.61 528.40,374.41 528.90,377.16 529.40,379.81 529.90,382.31 530.40,384.61 530.90,386.67 531.40,388.43 531.90,390.13 532.40,391.85 532.90,393.55 533.40,395.20 533.90,396.74 534.40,398.15 534.90,399.38 535.40,400.39 535.90,401.14 536.40,401.58 536.90,401.70 537.40,401.63 537.90,401.47 538.40,401.23 538.90,400.91 539.40,400.53 539.90,400.10 540.40,399.63 540.90,399.12 541.40,398.58 541.90,398.03 542.40,397.46 542.90,396.66 543.40,395.65 543.90,394.47 544.40,393.17 544.90,391.81 545.40,390.44 545.90,389.10 546.40,387.85 546.90,386.75 547.40,385.83 547.90,385.14 548.40,384.49 548.90,383.85 549.40,383.22 549.90,382.63 550.40,382.08 550.90,381.59 551.40,381.18 551.90,380.85 552.40,380.62 552.90,380.51 553.40,380.52 553.90,380.67 554.40,380.93 554.90,381.29 555.40,381.73 555.90,382.23 556.40,382.79 556.90,383.37 557.40,383.98 557.90,384.58 558.40,385.17 558.90,385.76 559.40,386.47 559.90,387.27 560.40,388.14 560.90,389.05 561.40,389.96 561.90,390.85 562.40,391.68 562.90,392.42 563.40,393.05 563.90,393.53 564.40,393.88 564.90,394.23 565.40,394.56 565.90,394.88 566.40,395.19 566.90,395.47 567.40,395.74 567.90,395.97 568.40,396.18 568.90,396.36 569.40,396.51 569.90,396.61 570.40,396.68 570.90,396.70 571.40,396.66 571.90,396.56 572.40,396.41 572.90,396.20 573.40,395.96 573.90,395.68 574.40,395.38 574.90,395.06 575.40,394.74 575.90,394.42 576.40,394.11 576.90,393.81 577.40,393.54 577.90,393.31 578.40,393.05 578.90,392.78 579.40,392.49 579.90,392.20 580.40,391.92 580.90,391.64 581.40,391.39 581.90,391.16 582.40,390.97 582.90,390.83 583.40,390.73 583.90,390.70 584.40,390.86 584.90,391.32 585.40,392.02 585.90,392.92 586.40,393.96 586.90,395.09 587.40,396.28 587.90,397.46 588.40,398.59 588.90,399.70 589.40,400.95 589.90,402.31 590.40,403.75 590.90,405.24 591.40,406.75 591.90,408.25 592.40,409.71 592.90,411.11 593.40,412.41 593.90,413.58 594.40,414.67 594.90,415.78 595.40,416.91 595.90,418.01 596.40,419.08 596.90,420.08 597.40,421.00 597.90,421.80 598.40,422.47 598.90,422.98 599.40,423.30 599.90,423.52 600.40,423.72 600.90,423.91 601.40,424.08 601.90,424.24 602.40,424.37 602.90,424.49 603.40,424.58 603.90,424.64 604.40,424.69 604.90,424.70 605.40,424.65 605.90,424.51 606.40,424.28 606.90,423.97 607.40,423.60 607.90,423.18 608.40,422.70 608.90,422.18 609.40,421.63 609.90,421.06 610.40,420.48 610.90,419.78 611.40,418.93 611.90,417.93 612.40,416.80 612.90,415.54 613.40,414.17 613.90,412.70 614.40,411.14 614.90,409.50 615.40,407.79 615.90,406.02 616.40,404.21 616.90,402.35 617.40,400.40 617.90,398.08 618.40,395.45 618.90,392.59 619.40,389.55 619.90,386.43 620.40,383.29 620.90,380.22 621.40,377.29 621.90,374.57 622.40,372.14 622.90,369.94 623.40,367.73 623.90,365.55 624.40,363.46 624.90,361.52 625.40,359.77 625.90,358.27 626.40,357.08 626.90,356.18 627.40,355.32 627.90,354.52 628.40,353.82 628.90,353.24 629.40,352.83 629.90,352.62 630.40,352.65 630.90,352.94 631.40,353.46 631.90,354.19 632.40,355.08 632.90,356.12 633.40,357.27 633.90,358.49 634.40,359.77 634.90,361.07 635.40,362.74 635.90,364.86 636.40,367.31 636.90,369.96 637.40,372.70 637.90,375.41 638.40,377.95 638.90,380.24 639.40,382.43 639.90,384.66 640.40,386.88 640.90,389.08 641.40,391.23 641.90,393.31 642.40,395.30 642.90,397.17 643.40,398.90 643.90,400.47 644.40,401.86 644.90,403.13 645.40,404.31 645.90,405.42 646.40,406.46 646.90,407.45 647.40,408.39 647.90,409.30 648.40,410.17 648.90,411.04 649.40,411.89 649.90,412.74 650.40,413.57 650.90,414.37 651.40,415.16 651.90,415.92 652.40,416.66 652.90,417.39 653.40,418.11 653.90,418.81 654.40,419.50 654.90,420.19 655.40,420.87 655.90,421.55 656.40,422.22 656.90,422.88 657.40,423.53 657.90,424.17 658.40,424.79 658.90,425.41 659.40,426.01 659.90,426.60 660.40,427.17 660.90,427.74 661.40,428.31 661.90,428.88 662.40,429.46 662.90,430.03 663.40,430.59 663.90,431.14 664.40,431.67 664.90,432.18 665.40,432.66 665.90,433.10 666.40,433.51 666.90,433.88 667.40,434.20 667.90,434.49 668.40,434.78 668.90,435.05 669.40,435.31 669.90,435.56 670.40,435.78 670.90,435.99 671.40,436.18 671.90,436.34 672.40,436.48 672.90,436.58 673.00,436.60" stroke="#878a30" stroke-width="2.5" fill="none" stroke-linejoin="round"/>
<rect x="34.17" y="239.45" width="292.72999999999996" height="213.10000000000002" fill="none" stroke="#000" stroke-width="1.4"/>
<rect x="380.0" y="239.45" width="292.85" height="213.10000000000002" fill="none" stroke="#000" stroke-width="1.4"/>
<line x1="227" y1="257.1" x2="257.3" y2="257.1" stroke="#0b1b5d" stroke-width="3.0"/>
<line x1="227" y1="277.2" x2="257.3" y2="277.2" stroke="#878a30" stroke-width="3.0"/>
<line x1="606" y1="257.1" x2="636.2" y2="257.1" stroke="#0b1b5d" stroke-width="3.0"/>
<line x1="606" y1="277.2" x2="636.2" y2="277.2" stroke="#878a30" stroke-width="3.0"/>
<g id="txt"><text transform="translate(64.84,197.75)" font-size="15.7" text-anchor="middle" >185</text>
<text transform="translate(139.32,197.75)" font-size="15.7" text-anchor="middle" >190</text>
<text transform="translate(213.79,197.75)" font-size="15.7" text-anchor="middle" >195</text>
<text transform="translate(286.51,197.75)" font-size="15.7" text-anchor="middle" >200</text>
<text transform="translate(360.99,197.75)" font-size="15.7" text-anchor="middle" >205</text>
<text transform="translate(435.46,197.75)" font-size="15.7" text-anchor="middle" >210</text>
<text transform="translate(509.93,197.75)" font-size="15.7" text-anchor="middle" >215</text>
<text transform="translate(584.41,197.75)" font-size="15.7" text-anchor="middle" >220</text>
<text transform="translate(40.50,183.20)" font-size="15.7" text-anchor="end" >3</text>
<rect x="21.9" y="177.57" width="9.0" height="1.15" fill="#000"/>
<text transform="translate(40.50,154.78)" font-size="15.7" text-anchor="end" >2</text>
<rect x="21.9" y="149.15" width="9.0" height="1.15" fill="#000"/>
<text transform="translate(40.50,126.35)" font-size="15.7" text-anchor="end" >1</text>
<rect x="21.9" y="120.72" width="9.0" height="1.15" fill="#000"/>
<text transform="translate(40.50,97.92)" font-size="15.7" text-anchor="end" >0</text>
<text transform="translate(40.50,69.50)" font-size="15.7" text-anchor="end" >1</text>
<text transform="translate(40.50,41.07)" font-size="15.7" text-anchor="end" >2</text>
<text transform="translate(40.50,12.65)" font-size="15.7" text-anchor="end" >3</text>
<text transform="translate(638.00,11.75)" font-size="15.7" text-anchor="start" letter-spacing="0.65">1.0</text>
<text transform="translate(638.00,45.91)" font-size="15.7" text-anchor="start" letter-spacing="0.65">0.8</text>
<text transform="translate(638.00,80.07)" font-size="15.7" text-anchor="start" letter-spacing="0.65">0.6</text>
<text transform="translate(638.00,114.23)" font-size="15.7" text-anchor="start" letter-spacing="0.65">0.4</text>
<text transform="translate(638.00,148.39)" font-size="15.7" text-anchor="start" letter-spacing="0.65">0.2</text>
<text transform="translate(638.00,182.55)" font-size="15.7" text-anchor="start" letter-spacing="0.65">0.0</text>
<text transform="translate(325.50,218.30) scale(0.9800,1)" font-size="16.5" text-anchor="middle" >Energy-Loss (eV)</text>
<text transform="translate(14.8,94.2) rotate(-90) scale(1.15,1)" font-size="17.5" text-anchor="middle"><tspan font-style="italic">ℓ</tspan> (<tspan font-style="italic">ħ</tspan>)</text>
<text transform="translate(-0.50,21.25) scale(0.9780,1)" font-size="27.6" text-anchor="start" font-weight="bold">a</text>
<text transform="translate(-0.70,261.25) scale(1.0500,1)" font-size="28.5" text-anchor="start" font-weight="bold">b</text>
<text transform="translate(348.60,260.30) scale(1.0350,1)" font-size="26.3" text-anchor="start" font-weight="bold">c</text>
<text transform="translate(35.42,471.70)" font-size="15.7" text-anchor="middle" >180</text>
<text transform="translate(108.60,471.70)" font-size="15.7" text-anchor="middle" >190</text>
<text transform="translate(180.03,471.70)" font-size="15.7" text-anchor="middle" >200</text>
<text transform="translate(253.22,471.70)" font-size="15.7" text-anchor="middle" >210</text>
<text transform="translate(326.40,471.70)" font-size="15.7" text-anchor="middle" >220</text>
<text transform="translate(184.00,492.80) scale(0.9800,1)" font-size="16.5" text-anchor="middle" >Energy-Loss (eV)</text>
<text transform="translate(22.00,347.50) rotate(-90) scale(1.0530,1)" font-size="16.5" text-anchor="middle" >Intensity (arb. units)</text>
<text transform="translate(381.25,471.70)" font-size="15.7" text-anchor="middle" >180</text>
<text transform="translate(454.46,471.70)" font-size="15.7" text-anchor="middle" >190</text>
<text transform="translate(525.92,471.70)" font-size="15.7" text-anchor="middle" >200</text>
<text transform="translate(599.14,471.70)" font-size="15.7" text-anchor="middle" >210</text>
<text transform="translate(672.35,471.70)" font-size="15.7" text-anchor="middle" >220</text>
<text transform="translate(533.60,492.80) scale(0.9800,1)" font-size="16.5" text-anchor="middle" >Energy-Loss (eV)</text>
<text transform="translate(367.00,347.50) rotate(-90) scale(1.0530,1)" font-size="16.5" text-anchor="middle" >Intensity (arb. units)</text>
<text transform="translate(267,261.05) scale(1.1,1)" font-size="14"><tspan font-style="italic">m</tspan> = 0</text>
<text transform="translate(267.5,281.7) scale(1.1,1)" font-size="14">|<tspan font-style="italic">m</tspan>| = 1</text>
<text transform="translate(645.4,261.85) scale(1.05,1)" font-size="14">п<tspan font-size="18" dy="2.3" dx="0">*</tspan></text>
<text transform="translate(645.4,281.7) scale(1.05,1)" font-size="14">σ<tspan font-size="18" dy="2.3" dx="0">*</tspan></text></g>
</svg>
</body></html>
